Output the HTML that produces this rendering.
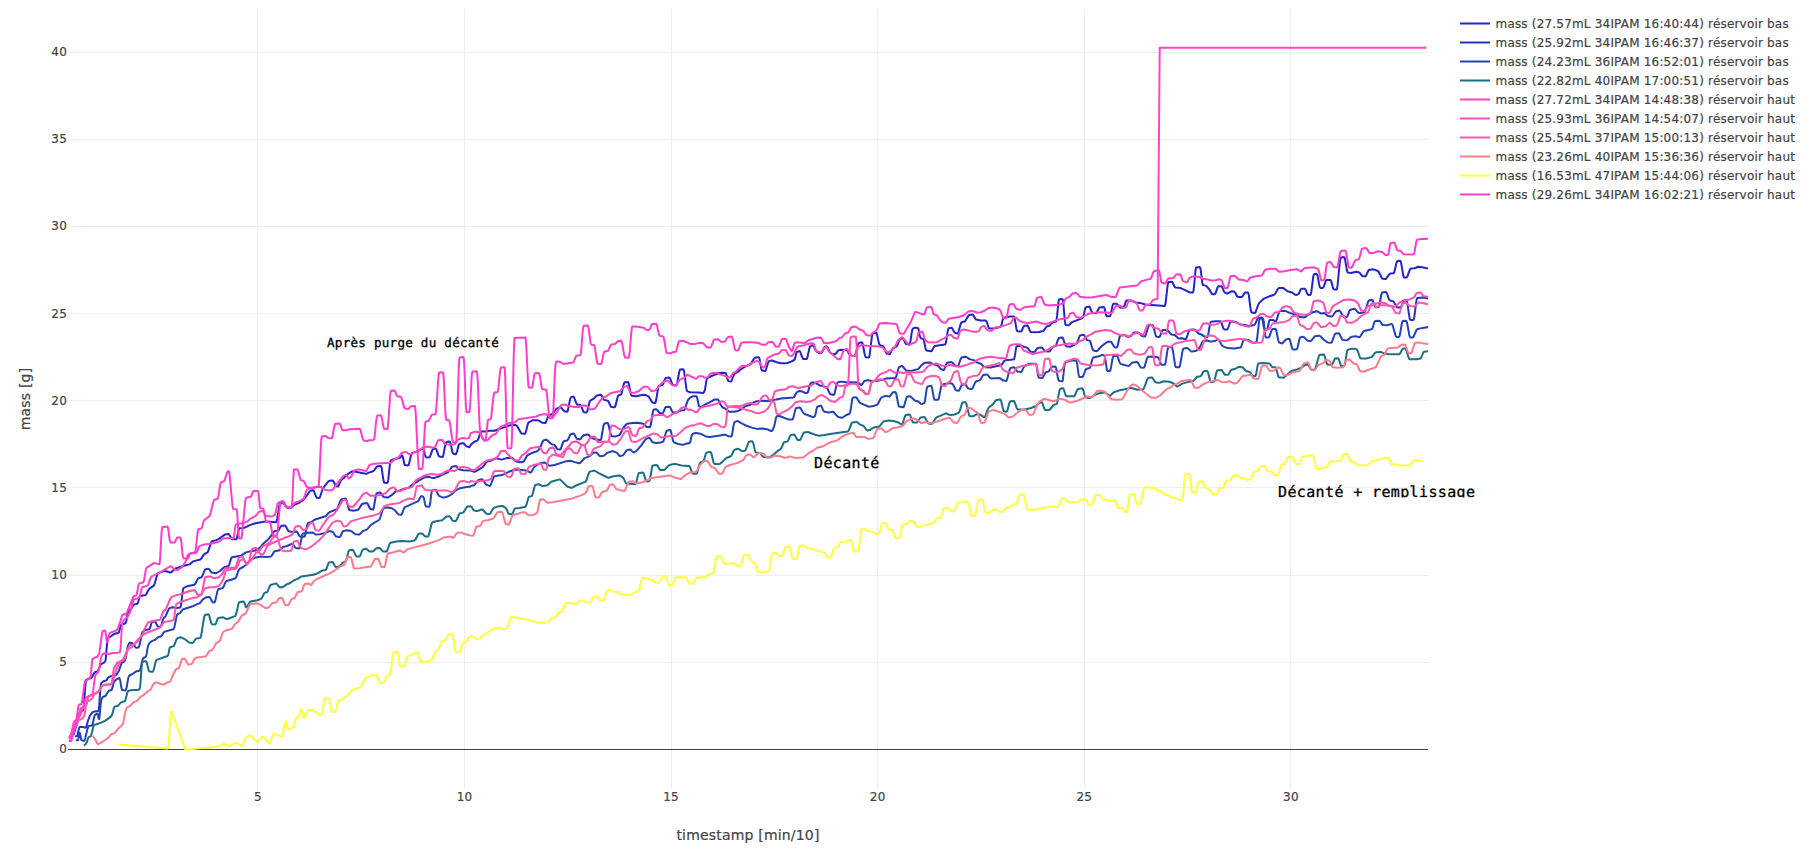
<!DOCTYPE html>
<html lang="fr"><head><meta charset="utf-8"><title>mass</title>
<style>
html,body{margin:0;padding:0;background:#fff;}
body{width:1802px;height:852px;overflow:hidden;}
svg{display:block;}
text{font-family:"DejaVu Sans","Liberation Sans",Verdana,sans-serif;fill:#444;letter-spacing:0.19px;stroke:#444;stroke-width:0.2px;}
.t12{font-size:12px;}
.t14{font-size:14px;}
.grid line{stroke:#eee;stroke-width:1;shape-rendering:crispEdges;}
.tr path{fill:none;stroke-width:2;stroke-linejoin:round;stroke-linecap:butt;}
.ann{font-family:"DejaVu Sans Mono","Liberation Mono",monospace;fill:#000;stroke:#000;stroke-width:0.3px;text-rendering:geometricPrecision;}
</style></head><body>
<svg width="1802" height="852" viewBox="0 0 1802 852">
<rect width="1802" height="852" fill="#fff"/>
<defs><clipPath id="pc"><rect x="68" y="9" width="1360" height="779"/></clipPath>
<clipPath id="ac"><rect x="1270" y="478" width="215" height="19.5"/></clipPath></defs>
<g class="grid">
<line x1="257.5" x2="257.5" y1="9" y2="788"/>
<line x1="464.5" x2="464.5" y1="9" y2="788"/>
<line x1="671.5" x2="671.5" y1="9" y2="788"/>
<line x1="877.5" x2="877.5" y1="9" y2="788"/>
<line x1="1084.5" x2="1084.5" y1="9" y2="788"/>
<line x1="1290.5" x2="1290.5" y1="9" y2="788"/>
<line x1="68" x2="1428" y1="662.5" y2="662.5"/>
<line x1="68" x2="1428" y1="575.5" y2="575.5"/>
<line x1="68" x2="1428" y1="487.5" y2="487.5"/>
<line x1="68" x2="1428" y1="400.5" y2="400.5"/>
<line x1="68" x2="1428" y1="313.5" y2="313.5"/>
<line x1="68" x2="1428" y1="226.5" y2="226.5"/>
<line x1="68" x2="1428" y1="139.5" y2="139.5"/>
<line x1="68" x2="1428" y1="52.5" y2="52.5"/>
<line x1="68" x2="1428" y1="749.5" y2="749.5" style="stroke:#444"/>
</g>
<g class="tr" clip-path="url(#pc)">
<path stroke="#2424c8" d="M73.2,735.2L73.7,734.1L75.8,727.3L77.3,723.0L79.4,712.9L79.9,711.8L83.0,710.6L83.5,708.8L84.0,704.2L85.1,688.3L85.6,682.8L86.1,680.0L88.7,678.8L91.3,677.8L92.3,676.5L94.4,672.7L94.9,672.3L97.5,671.5L98.0,670.9L100.6,664.8L101.1,664.2L103.7,662.9L105.2,661.2L105.7,659.7L107.3,640.8L107.8,637.8L110.9,636.4L114.5,633.8L118.1,633.0L118.7,632.6L119.2,631.5L120.7,625.7L121.2,624.7L125.4,623.3L125.9,622.4L126.4,620.4L127.4,614.3L128.0,612.2L128.5,611.2L130.5,609.6L133.6,604.9L134.1,604.6L137.2,603.8L137.8,603.0L138.3,601.5L139.3,597.7L139.8,596.5L140.3,595.9L145.5,595.1L146.5,593.8L148.1,590.6L149.1,588.9L153.8,585.7L154.8,583.3L156.9,575.7L157.9,573.3L163.6,571.1L164.6,570.8L170.3,572.5L170.8,572.5L171.9,571.8L174.4,569.2L175.5,568.5L185.8,565.3L189.4,564.4L190.4,563.8L193.0,561.4L200.3,559.5L201.3,558.6L203.9,554.5L204.4,554.1L207.5,552.4L208.0,551.6L211.1,542.6L211.6,541.7L212.1,541.2L216.3,540.1L219.4,538.6L225.1,534.4L228.2,534.0L228.7,534.2L229.2,534.7L231.8,538.9L232.3,539.3L235.9,539.3L236.4,539.2L236.9,538.0L238.5,530.6L239.0,529.0L239.5,528.3L243.1,528.0L244.2,527.8L250.4,524.9L255.5,523.2L265.3,521.5L266.9,521.5L276.2,522.2L276.7,521.0L277.2,518.7L279.3,505.9L279.8,504.4L282.4,502.4L282.9,502.4L283.4,502.9L285.5,506.0L286.5,507.2L287.0,507.4L290.1,508.1L290.6,508.0L291.2,507.7L294.3,504.8L298.9,502.8L303.0,500.2L306.1,496.5L309.8,491.2L310.8,490.5L312.9,490.3L313.4,490.5L313.9,491.1L316.0,496.5L316.5,497.3L317.0,497.7L319.1,497.9L319.6,497.6L320.1,496.8L322.7,488.8L323.2,487.9L328.4,481.4L329.4,480.8L332.5,480.4L333.0,480.8L333.5,481.5L335.6,485.7L336.1,486.2L337.7,486.6L338.2,486.3L338.7,485.6L340.2,481.8L341.3,479.9L344.4,477.4L348.0,473.9L352.1,471.4L353.1,471.3L365.5,473.7L366.6,473.7L370.2,472.1L373.3,471.2L374.3,470.1L376.4,467.2L377.4,466.3L380.5,466.0L381.0,466.2L381.6,467.7L383.1,478.1L383.6,480.9L384.1,482.4L384.7,482.8L387.2,483.1L387.8,482.1L388.3,479.4L389.8,465.1L390.3,462.0L390.9,460.4L394.5,459.0L399.6,458.0L400.7,457.0L401.7,455.7L402.2,455.4L402.7,456.3L404.3,463.8L404.8,465.0L407.9,465.5L408.4,465.2L408.9,464.2L411.0,455.5L411.5,454.1L412.0,453.3L415.6,451.9L420.8,449.3L422.9,448.6L423.4,448.8L423.9,449.9L424.9,454.5L425.5,456.3L426.0,457.2L429.1,457.4L429.6,457.2L430.1,456.4L432.2,450.4L432.7,449.5L433.2,449.0L435.3,448.5L435.8,448.7L436.3,449.4L438.4,455.2L438.9,456.0L439.4,456.4L442.5,457.0L443.0,456.2L443.5,454.4L445.6,443.5L446.1,442.3L446.6,442.0L449.2,441.5L449.7,441.6L450.2,442.6L450.8,444.4L452.3,451.5L452.8,453.0L453.3,453.8L455.4,454.3L455.9,454.2L456.4,453.3L457.0,451.7L458.5,445.7L459.0,444.4L459.5,443.8L462.6,443.2L463.2,443.2L463.7,443.5L466.8,446.4L469.4,447.3L470.9,444.8L473.0,442.7L474.0,442.0L477.1,440.7L477.6,440.3L478.7,438.0L480.2,433.0L480.7,432.0L481.2,431.6L484.9,431.6L489.5,430.8L494.7,430.7L499.3,428.9L509.1,425.6L514.3,424.7L515.3,424.9L517.4,426.4L521.0,433.0L521.5,433.4L524.6,433.8L525.1,433.6L525.7,432.6L527.7,424.6L528.2,423.2L528.8,422.4L531.9,420.6L532.9,420.2L537.5,420.2L538.6,420.6L542.2,422.7L545.3,423.0L545.8,422.5L546.3,421.5L547.9,417.1L548.9,415.5L552.5,414.0L553.5,412.8L555.6,409.7L556.6,408.6L560.3,407.2L560.8,407.3L561.3,407.7L563.4,410.3L564.4,411.3L567.0,411.8L567.5,411.3L568.0,409.9L570.1,399.3L570.6,397.7L571.1,397.1L573.2,396.6L573.7,396.8L574.2,397.6L575.8,402.0L576.8,404.1L577.3,404.5L580.4,405.1L580.9,405.6L581.4,406.6L583.0,410.7L583.5,411.7L584.0,412.2L586.6,412.5L587.1,411.7L587.6,410.1L589.2,403.2L589.7,401.6L590.2,400.6L593.3,398.9L596.9,395.6L600.5,394.8L601.1,395.0L601.6,395.5L603.1,398.6L604.2,399.9L607.8,400.8L608.3,401.3L610.9,406.6L611.4,407.0L614.5,407.3L615.0,406.9L615.5,405.7L617.6,397.2L618.1,395.9L618.6,395.3L620.7,394.8L621.2,394.2L621.7,392.9L623.8,383.9L624.3,382.7L624.8,382.3L627.9,382.0L628.4,382.8L629.0,384.6L630.5,392.5L631.0,394.4L631.5,395.5L632.1,395.7L635.7,396.3L643.4,394.8L645.0,394.9L648.1,396.1L648.6,396.5L652.2,402.3L652.7,402.6L654.8,402.9L655.3,402.9L655.8,401.6L656.3,399.3L657.9,389.2L658.4,386.9L658.9,385.7L662.0,385.1L662.5,384.8L663.0,384.1L665.1,378.9L665.6,378.2L666.1,377.9L669.2,377.6L669.8,378.0L670.3,378.9L671.8,383.2L672.9,384.9L676.0,385.4L676.5,385.2L677.0,384.0L677.5,381.7L679.1,372.5L679.6,370.5L680.1,369.6L683.2,369.2L683.7,370.0L684.2,372.3L686.3,388.2L686.8,390.5L687.3,391.4L690.4,392.3L698.7,392.4L702.8,393.1L703.3,392.8L704.4,391.5L704.9,389.9L706.4,380.8L706.9,378.8L707.5,378.0L714.7,374.7L719.3,373.0L723.0,372.7L725.5,372.9L726.1,373.7L726.6,375.2L727.6,379.4L728.1,380.6L728.6,381.1L730.7,381.6L731.2,381.3L731.7,380.5L733.3,376.0L734.3,373.9L737.4,372.1L742.1,368.5L745.7,366.3L750.3,364.3L751.4,363.1L753.4,359.5L754.5,358.1L757.0,357.3L758.6,357.3L759.1,357.6L759.6,359.2L761.2,368.5L761.7,370.1L762.2,370.5L764.8,371.0L765.3,371.0L765.8,370.3L767.9,363.3L768.4,362.0L768.9,361.3L771.0,360.6L772.0,360.5L776.7,362.2L781.3,363.2L786.0,363.3L787.5,363.0L791.1,361.6L794.2,360.0L794.8,359.1L795.3,357.4L796.3,353.2L796.8,352.1L797.3,351.7L799.4,351.1L799.9,351.4L800.4,352.3L802.0,356.8L803.0,358.8L803.5,359.0L806.6,359.1L807.1,358.2L807.7,356.4L809.2,349.0L809.7,347.3L810.2,346.3L812.8,345.1L813.3,345.5L813.9,346.3L815.9,350.8L816.4,351.4L818.5,352.7L819.5,353.1L821.6,352.8L822.6,351.3L824.2,347.7L824.7,347.0L825.2,346.6L826.8,346.6L827.3,347.0L827.8,347.7L829.9,352.3L830.4,352.9L833.0,354.2L834.0,354.3L835.6,353.8L836.6,352.8L837.6,351.1L838.7,350.3L841.2,349.8L843.8,350.0L846.4,349.5L846.9,349.9L847.4,350.7L849.5,354.4L852.1,355.9L853.1,356.1L854.7,355.7L855.2,355.2L855.7,354.0L857.8,345.0L858.3,343.6L858.8,342.9L861.9,342.3L862.4,343.0L862.9,344.7L864.5,353.2L865.0,355.5L865.5,356.8L866.0,357.2L868.6,357.4L869.1,357.2L869.6,355.5L871.7,338.0L872.2,334.9L872.7,333.3L875.8,332.7L876.4,333.0L876.9,334.1L878.9,343.1L879.5,344.5L880.0,345.1L883.1,346.3L883.6,346.9L884.1,347.8L885.7,351.9L886.7,353.6L889.3,354.4L889.8,354.1L890.3,353.3L892.4,348.8L892.9,348.2L896.5,346.6L897.5,344.8L899.1,340.7L899.6,339.8L900.1,339.2L902.2,338.2L902.7,338.1L903.2,338.5L905.3,343.0L905.8,343.7L906.3,344.1L909.4,344.7L909.9,343.8L910.4,341.6L911.5,334.2L912.0,331.1L912.5,329.2L913.0,328.5L914.6,327.8L915.6,327.7L917.7,328.0L918.2,328.4L918.7,329.9L919.7,335.2L920.3,337.2L920.8,338.3L923.4,339.1L923.9,340.2L925.4,347.8L925.9,349.6L926.5,350.5L931.1,351.2L931.6,351.0L932.1,350.4L933.7,347.4L934.7,346.1L945.1,344.4L945.6,343.7L946.1,341.8L947.6,331.7L948.2,329.4L948.7,328.3L951.3,327.7L951.8,327.9L952.3,328.4L953.8,331.3L954.9,332.8L957.5,333.6L958.0,333.2L958.5,332.1L960.5,324.4L961.1,323.0L961.6,322.2L964.7,321.5L965.2,321.1L968.3,316.0L968.8,315.4L969.3,315.1L972.4,314.5L972.9,314.7L973.5,315.2L975.0,318.2L976.0,319.6L980.7,320.5L985.9,320.6L986.4,321.2L986.9,322.3L988.4,327.0L989.0,328.0L989.5,328.4L993.6,328.4L1000.3,326.9L1000.8,326.6L1001.4,325.5L1002.9,319.1L1003.4,318.0L1003.9,317.7L1010.1,316.6L1013.7,316.5L1014.3,317.2L1014.8,319.0L1016.3,328.2L1016.8,330.2L1017.4,331.2L1021.0,331.6L1021.5,331.2L1022.0,330.3L1023.0,327.7L1024.1,325.9L1024.6,325.7L1027.2,325.4L1027.7,325.8L1028.2,326.7L1029.8,330.6L1030.3,331.5L1030.8,332.0L1034.9,332.3L1039.1,332.0L1043.2,331.1L1043.7,330.6L1046.3,326.8L1046.8,326.5L1049.4,325.8L1052.5,322.4L1056.1,321.5L1056.6,319.7L1057.1,315.7L1058.2,304.1L1058.7,300.6L1059.2,299.3L1062.3,299.1L1062.8,299.6L1063.3,302.7L1064.9,321.4L1065.4,324.5L1065.9,325.0L1068.5,325.2L1069.5,324.7L1071.1,323.0L1072.1,322.1L1082.4,318.1L1083.0,317.4L1083.5,316.0L1085.0,309.3L1085.5,307.9L1086.1,307.2L1088.6,306.7L1089.2,306.6L1089.7,307.0L1091.7,311.8L1092.3,312.5L1092.8,312.8L1095.9,313.3L1096.4,313.0L1096.9,312.2L1099.0,308.0L1099.5,307.6L1103.6,307.0L1104.1,307.4L1104.7,308.8L1105.7,313.7L1106.2,315.4L1106.7,316.2L1109.8,316.2L1110.3,315.4L1110.9,313.7L1112.4,306.1L1112.9,304.5L1113.4,303.7L1116.5,303.7L1117.6,304.5L1119.1,306.5L1120.1,307.4L1122.7,307.8L1123.2,307.7L1123.8,307.1L1124.3,305.9L1125.8,301.5L1126.3,300.7L1126.9,300.4L1131.0,300.5L1135.1,302.4L1139.8,302.9L1145.5,304.5L1164.6,306.1L1165.1,305.3L1165.6,302.8L1167.7,284.7L1168.2,282.5L1168.7,281.9L1171.8,281.7L1172.3,282.1L1172.8,282.9L1174.4,286.4L1174.9,287.1L1175.4,287.5L1180.6,288.1L1184.7,289.9L1189.4,292.4L1193.0,292.4L1193.5,290.6L1194.0,286.6L1195.6,269.7L1196.1,267.5L1196.6,267.4L1199.7,267.1L1200.2,267.6L1200.7,269.8L1202.3,282.9L1202.8,284.9L1205.4,285.6L1206.4,286.1L1209.5,289.7L1211.6,293.5L1212.1,294.0L1212.6,294.2L1214.7,294.2L1215.2,293.8L1215.7,292.8L1217.8,286.8L1218.3,286.2L1218.8,286.2L1221.4,286.3L1221.9,286.8L1222.4,287.7L1224.0,291.5L1224.5,292.3L1225.0,292.7L1226.5,293.4L1227.6,293.4L1231.2,291.3L1234.3,291.6L1235.3,292.8L1236.9,296.0L1237.4,296.6L1237.9,296.9L1241.5,296.9L1242.0,296.8L1242.6,296.3L1244.6,292.9L1245.1,292.5L1247.7,292.4L1248.2,293.0L1248.8,295.0L1250.3,306.6L1250.8,310.0L1251.3,311.9L1251.9,312.6L1254.4,313.0L1255.0,312.9L1255.5,312.3L1258.1,305.1L1259.1,303.1L1263.7,298.7L1269.4,296.3L1274.1,294.7L1274.6,294.3L1275.6,293.0L1278.2,288.6L1278.7,288.1L1279.2,287.9L1283.4,288.1L1287.5,291.2L1292.1,292.5L1294.7,294.5L1295.8,294.9L1297.8,294.5L1298.3,294.2L1298.9,293.5L1300.4,290.0L1300.9,289.2L1301.4,288.7L1304.5,288.7L1305.1,289.0L1305.6,289.7L1307.6,294.3L1308.2,294.9L1310.2,294.9L1310.7,294.2L1311.3,292.0L1313.3,276.5L1313.8,274.6L1314.4,274.1L1316.4,273.8L1316.9,274.2L1317.5,275.5L1318.0,277.9L1319.5,286.2L1320.0,287.5L1320.6,287.9L1322.6,287.9L1323.1,287.8L1323.6,287.0L1325.7,281.1L1326.2,280.2L1326.7,280.0L1330.4,280.0L1330.9,280.5L1331.4,281.7L1332.9,287.5L1333.5,288.8L1334.0,289.4L1336.6,289.4L1337.1,288.1L1337.6,284.9L1339.7,263.4L1340.2,259.6L1340.7,257.6L1341.2,257.4L1343.8,257.1L1344.3,257.3L1344.8,258.5L1345.3,260.9L1346.9,270.1L1347.4,271.9L1347.9,272.6L1351.0,272.9L1356.2,271.8L1358.8,272.3L1359.8,272.8L1361.9,275.6L1362.4,276.0L1362.9,276.2L1365.5,276.2L1366.0,275.7L1366.5,274.8L1368.1,271.0L1368.6,270.2L1369.1,269.9L1372.7,269.3L1373.7,269.4L1377.9,271.0L1378.9,272.2L1382.0,278.2L1382.5,278.6L1383.0,278.8L1385.1,279.1L1385.6,279.1L1386.1,278.7L1389.2,274.4L1389.8,273.9L1390.3,273.6L1393.4,273.3L1393.9,272.9L1394.4,271.6L1394.9,269.6L1396.5,262.7L1397.0,261.5L1397.5,261.1L1400.1,260.8L1400.6,261.2L1401.1,262.8L1401.6,265.6L1403.2,275.3L1403.7,277.0L1404.2,277.5L1406.3,277.5L1406.8,277.3L1407.3,276.7L1409.9,269.7L1410.4,268.9L1410.9,268.6L1414.6,268.2L1417.7,267.0L1418.7,266.8L1423.3,267.5L1429.5,268.7"/>
<path stroke="#2436bc" d="M75.0,736.6L77.0,736.0L77.5,734.9L79.1,727.9L79.6,727.0L82.7,727.0L85.8,727.7L86.3,726.9L87.9,721.0L89.4,716.9L90.5,714.8L92.0,712.8L93.0,711.9L93.6,711.8L96.1,711.2L98.2,711.2L98.7,710.1L99.2,705.8L100.3,689.9L100.8,684.9L101.3,683.1L103.4,681.2L106.0,680.5L106.5,680.2L108.0,677.7L109.1,676.7L115.8,675.2L116.8,674.3L118.9,670.7L121.4,663.5L122.0,662.7L122.5,662.3L124.5,661.3L125.1,660.3L125.6,658.3L127.6,647.2L128.2,645.4L129.2,643.3L129.7,642.8L130.2,642.7L132.3,643.2L133.3,643.9L135.4,647.1L135.9,647.6L136.4,647.7L138.5,647.4L139.0,646.7L139.5,645.2L141.6,634.7L142.1,633.0L142.6,632.1L144.7,630.2L149.3,629.3L149.9,628.4L151.4,623.3L151.9,622.3L152.4,622.0L154.5,621.5L155.0,621.7L155.5,622.3L157.6,626.2L158.1,626.6L160.7,626.7L161.2,625.9L161.7,624.4L162.8,620.1L163.3,618.7L165.4,616.3L165.9,615.4L169.0,608.6L169.5,608.1L172.6,607.3L173.6,607.4L176.7,608.1L180.3,607.4L180.8,606.0L181.4,602.9L182.4,593.4L182.9,590.0L183.4,588.1L187.0,586.3L194.3,584.8L194.8,584.4L195.3,583.7L197.9,578.6L198.4,578.2L201.5,577.3L202.0,576.6L204.6,570.3L205.1,569.5L205.6,569.2L208.2,568.8L208.7,568.9L209.3,569.3L211.3,572.3L211.8,572.6L215.5,573.2L216.5,573.0L220.1,571.0L223.2,568.0L224.2,567.2L228.4,566.0L228.9,565.3L229.4,564.1L230.9,559.0L231.5,557.8L232.0,557.2L240.8,555.8L245.9,552.4L250.1,551.4L255.2,550.5L259.4,548.2L260.4,547.2L263.5,543.5L268.1,539.5L271.2,535.6L273.8,531.6L274.8,531.0L277.9,530.7L278.5,530.4L280.5,526.8L281.6,525.8L284.7,525.5L285.2,525.6L286.2,527.0L287.8,530.2L288.8,531.2L292.4,531.9L296.5,531.5L297.6,532.6L299.1,535.5L299.6,536.1L300.2,536.4L304.3,536.7L304.8,535.9L305.3,534.2L306.9,526.4L307.4,524.4L307.9,523.2L308.4,522.9L311.5,522.0L314.1,520.0L315.1,519.5L325.5,516.3L326.5,515.4L328.0,513.4L329.1,512.4L336.8,509.3L337.9,507.8L340.4,500.8L341.0,499.8L341.5,499.3L345.6,498.6L346.1,499.1L346.6,500.4L348.7,508.7L349.2,509.8L349.7,510.1L353.4,510.7L358.0,509.7L359.0,508.8L361.6,504.6L362.1,504.0L362.7,503.7L366.8,503.0L367.3,503.3L367.8,504.0L369.9,508.5L370.4,509.0L373.0,509.5L373.5,508.5L374.0,506.5L375.6,496.9L376.1,494.6L376.6,493.3L377.1,493.0L380.2,492.5L381.2,493.5L382.8,496.0L383.3,496.6L383.8,496.9L386.9,497.5L388.0,497.4L391.6,495.2L395.7,491.5L399.8,490.6L403.5,488.9L408.6,487.8L412.8,484.2L415.9,482.6L419.5,480.0L424.1,477.6L425.2,477.3L428.8,476.9L432.9,478.1L433.9,478.1L438.6,476.5L443.7,474.0L447.9,472.3L448.9,471.2L451.5,467.4L452.5,466.7L455.6,466.1L456.1,466.2L456.7,466.5L458.7,469.1L459.8,469.6L463.4,470.3L470.1,470.4L474.2,471.9L475.3,471.6L483.0,466.9L486.1,462.5L487.1,461.5L491.3,460.5L496.4,458.2L501.6,459.6L507.3,458.0L511.9,457.8L513.0,458.4L515.0,460.7L516.1,461.5L520.2,462.3L522.8,461.8L523.8,461.2L526.9,456.0L527.9,455.0L532.6,452.7L537.2,451.2L538.3,450.3L540.3,447.4L542.4,442.2L543.4,440.4L546.0,439.7L547.0,440.0L550.7,443.5L551.7,444.1L554.3,444.9L554.8,445.4L556.9,448.6L557.4,449.1L557.9,449.3L560.0,449.5L560.5,449.2L561.0,448.4L562.5,443.7L563.6,441.5L564.1,441.1L567.2,440.5L568.2,439.2L570.3,434.7L570.8,434.2L573.4,433.5L573.9,433.8L574.4,434.4L576.5,438.3L577.0,438.7L579.1,439.3L579.6,439.4L580.6,438.8L582.7,436.2L583.7,435.2L587.3,434.4L588.4,434.7L590.9,437.2L592.0,438.0L596.1,439.5L600.2,440.0L600.8,439.8L601.3,438.5L603.3,426.7L603.9,424.6L604.4,423.6L607.5,423.0L608.0,423.4L608.5,424.7L610.6,434.2L611.1,435.6L611.6,436.1L614.7,436.5L615.7,436.4L619.4,435.1L620.4,433.7L623.5,427.7L626.1,424.5L627.1,423.7L632.8,423.1L637.4,422.8L639.0,422.9L643.1,423.7L644.1,424.4L646.2,426.5L647.2,427.1L649.8,427.2L650.3,426.3L650.9,424.3L652.9,411.5L653.4,410.0L654.0,409.5L656.0,409.3L656.5,409.5L657.1,409.9L659.1,412.7L660.2,413.3L662.2,413.6L662.7,413.2L663.3,412.4L665.3,407.6L665.8,407.0L666.4,406.9L669.5,406.7L670.0,407.2L670.5,408.0L672.0,411.3L672.6,412.0L673.1,412.3L676.7,412.5L680.3,410.6L683.9,410.2L684.4,410.0L684.9,409.2L687.0,402.4L688.0,400.0L690.1,397.7L692.7,396.3L696.3,396.2L696.8,396.8L697.3,398.4L698.4,403.8L698.9,405.7L699.4,406.5L701.0,406.7L702.0,406.5L705.1,404.6L711.8,401.2L714.4,399.6L715.4,399.4L717.5,399.4L718.0,399.7L718.5,400.4L720.6,404.9L722.7,407.3L725.8,408.9L728.9,411.6L729.4,411.7L734.0,411.7L737.6,411.0L739.2,410.4L741.8,409.1L744.9,406.4L750.5,404.7L753.6,402.5L755.2,401.8L758.3,401.1L763.5,400.8L769.1,401.1L776.4,399.4L781.0,398.6L793.4,397.6L794.4,396.5L796.5,392.6L797.0,392.1L799.1,391.1L802.2,391.4L805.3,393.1L807.4,392.8L807.9,392.1L808.4,390.7L809.4,386.3L810.5,383.5L811.0,383.1L813.0,382.3L814.1,382.5L816.1,383.3L819.8,385.4L823.9,386.3L826.5,387.5L827.5,388.6L829.6,393.1L830.1,393.9L830.6,394.2L833.7,394.9L834.2,394.4L834.7,393.0L836.8,384.1L837.3,382.9L837.8,382.4L839.9,381.8L842.5,381.8L847.6,382.6L852.8,382.2L857.5,382.6L858.5,383.0L861.1,384.9L861.6,384.9L862.1,384.5L864.2,381.3L864.7,380.9L867.3,380.2L868.3,380.2L871.4,380.9L876.6,380.9L880.7,380.1L885.9,378.6L895.2,378.0L895.7,377.6L896.2,376.7L898.3,369.0L898.8,367.7L899.3,367.0L901.9,365.9L902.4,366.1L902.9,366.6L905.0,369.4L906.0,370.4L910.1,371.1L917.9,369.1L918.4,368.8L921.5,365.2L924.6,362.9L925.6,362.7L929.8,362.4L933.4,364.4L937.5,365.4L938.6,366.3L940.6,368.9L943.2,370.0L943.7,370.0L944.2,369.4L944.7,368.3L946.3,364.0L946.8,363.1L947.3,362.7L951.5,362.0L952.5,362.6L954.6,365.2L955.1,365.5L957.7,366.1L958.2,365.6L958.7,364.6L960.8,358.7L961.3,357.8L961.8,357.4L965.4,356.7L966.4,357.0L969.5,359.1L973.7,360.1L977.3,362.6L980.9,363.7L984.0,366.7L985.0,367.2L990.7,367.5L995.9,366.3L1000.5,365.5L1001.6,364.9L1004.1,361.1L1005.2,360.2L1010.9,359.8L1014.0,359.3L1014.5,357.9L1015.0,355.2L1016.0,348.3L1016.5,346.5L1017.1,346.0L1020.7,345.8L1026.9,347.6L1027.9,348.3L1030.0,351.1L1031.0,351.8L1034.1,352.1L1034.6,351.9L1035.1,351.4L1036.7,348.9L1037.7,347.9L1040.8,347.5L1041.9,347.7L1042.4,348.1L1044.4,350.4L1045.5,351.2L1049.1,351.6L1049.6,351.4L1050.1,350.8L1052.2,347.4L1052.7,346.9L1055.3,346.2L1055.8,345.6L1056.3,344.6L1057.9,339.9L1058.9,338.1L1062.0,337.4L1062.5,337.5L1063.0,338.2L1065.1,344.6L1065.6,345.6L1066.1,346.2L1069.7,346.8L1070.8,346.5L1076.5,343.6L1077.5,341.8L1079.6,336.1L1080.1,335.4L1083.2,334.8L1083.7,334.8L1084.2,335.3L1084.7,336.1L1086.3,339.1L1086.8,339.7L1087.3,340.1L1089.4,340.6L1089.9,341.0L1090.4,342.0L1092.5,349.0L1093.0,350.1L1093.5,350.6L1096.6,351.2L1097.6,350.7L1100.2,347.5L1104.3,344.1L1106.9,342.2L1108.0,341.8L1110.5,341.7L1111.1,341.9L1111.6,342.5L1114.2,346.8L1114.7,347.2L1115.2,347.4L1116.7,347.4L1117.3,346.7L1117.8,345.3L1119.3,338.0L1119.8,336.3L1120.4,335.4L1124.5,335.0L1125.5,335.4L1127.1,336.6L1128.1,336.7L1130.7,336.2L1131.2,335.8L1133.3,333.0L1133.8,332.6L1134.3,332.4L1137.9,332.4L1139.0,332.9L1141.0,335.2L1142.1,336.1L1144.6,336.5L1145.2,336.2L1145.7,335.3L1148.3,326.8L1148.8,325.8L1149.3,325.3L1152.4,325.0L1152.9,325.7L1153.4,327.0L1155.5,334.6L1156.0,336.0L1156.5,336.8L1159.1,336.9L1159.6,336.6L1160.1,335.9L1162.2,330.6L1162.7,330.0L1163.2,329.9L1166.8,329.9L1167.9,330.5L1171.0,334.1L1171.5,334.4L1174.6,334.9L1175.6,335.7L1178.2,338.2L1178.7,338.5L1182.3,338.2L1185.4,339.2L1186.0,338.9L1186.5,338.1L1188.5,332.2L1189.6,330.1L1190.1,329.8L1193.7,329.5L1194.7,329.8L1197.8,332.9L1198.9,333.7L1202.0,334.8L1205.1,336.9L1207.1,337.3L1207.6,336.6L1208.2,334.8L1209.7,325.6L1210.2,323.3L1210.7,322.0L1211.3,321.8L1215.4,321.2L1220.6,321.2L1221.1,321.8L1221.6,322.9L1223.1,327.9L1223.7,328.9L1224.2,329.4L1227.3,329.4L1227.8,328.8L1228.3,327.7L1229.9,322.7L1230.4,321.7L1230.9,321.2L1236.1,322.0L1239.2,324.0L1240.2,324.4L1244.8,324.9L1249.0,325.9L1250.0,326.0L1254.1,325.1L1255.2,323.9L1257.7,318.3L1258.3,317.9L1261.4,317.5L1261.9,317.7L1262.4,319.0L1263.9,327.5L1264.5,329.2L1265.0,329.9L1266.5,329.9L1267.0,329.4L1267.6,328.0L1269.1,321.3L1269.6,320.2L1270.1,319.9L1273.2,320.0L1275.3,321.3L1275.8,321.3L1276.3,320.6L1276.9,319.1L1278.9,312.5L1279.4,311.5L1280.0,311.1L1284.1,310.7L1285.1,310.9L1289.8,312.9L1294.9,314.5L1299.6,316.8L1304.2,317.4L1305.3,317.0L1308.4,314.5L1311.5,312.8L1313.0,312.2L1316.6,311.3L1317.7,311.5L1320.8,313.4L1321.8,313.5L1324.4,313.1L1325.4,313.7L1327.0,315.3L1328.0,316.1L1331.6,316.6L1332.6,316.0L1335.2,312.3L1336.3,311.2L1339.4,310.6L1340.4,311.6L1343.0,316.0L1343.5,316.6L1344.0,316.9L1346.6,316.9L1347.1,316.5L1347.6,315.7L1349.7,310.4L1350.2,309.8L1350.7,309.7L1354.3,308.8L1355.4,309.4L1357.9,312.3L1358.5,312.7L1359.0,312.9L1364.1,312.5L1364.7,311.9L1365.2,310.8L1368.3,301.3L1368.8,300.6L1369.3,300.3L1371.9,300.0L1372.4,300.2L1372.9,300.9L1375.0,306.5L1375.5,307.2L1376.0,307.3L1378.6,307.0L1379.1,306.1L1379.6,304.2L1381.2,295.3L1381.7,293.4L1382.2,292.4L1385.8,292.0L1386.4,292.2L1386.9,293.0L1388.9,299.3L1389.5,300.2L1390.0,300.6L1393.1,301.2L1394.1,302.5L1396.2,306.4L1396.7,307.1L1397.2,307.4L1400.3,307.4L1400.8,307.1L1401.3,306.4L1403.9,300.7L1404.4,300.3L1405.0,300.3L1406.5,300.9L1407.0,302.0L1407.5,304.3L1409.6,318.3L1410.1,319.7L1410.6,319.9L1413.2,319.9L1413.7,319.6L1414.2,317.9L1416.3,301.5L1416.8,298.9L1417.3,297.9L1422.5,297.5L1429.2,298.6"/>
<path stroke="#2444b4" d="M75.8,740.2L77.9,740.2L78.4,738.4L79.5,732.7L80.0,733.3L81.0,738.7L81.5,740.1L82.0,740.4L84.1,740.9L84.6,740.3L85.1,738.8L87.2,730.0L88.2,726.7L88.8,726.0L91.9,725.4L92.4,724.7L92.9,723.1L93.9,718.0L94.4,716.1L95.0,715.1L97.0,713.5L97.5,713.7L98.1,715.4L98.6,718.5L99.1,719.2L99.6,716.4L100.6,704.9L101.2,701.1L101.7,698.9L102.7,697.0L105.3,696.0L105.8,695.5L108.4,691.2L108.9,690.8L111.5,690.0L112.0,689.1L112.5,687.4L113.5,683.2L114.1,681.9L114.6,681.2L116.6,679.3L119.2,678.0L119.7,678.8L120.3,680.8L121.3,687.3L121.8,689.3L122.3,690.1L125.4,690.5L125.9,689.7L126.5,688.0L128.0,679.5L128.5,677.3L129.0,676.0L129.6,675.5L132.1,674.2L135.8,671.6L139.4,670.8L139.9,670.3L140.4,668.9L142.5,659.9L143.0,658.6L143.5,658.0L145.6,656.9L146.1,656.0L146.6,654.0L147.6,647.9L148.2,645.6L148.7,644.3L150.2,642.2L151.3,641.4L154.9,639.9L158.0,637.2L160.5,636.5L161.1,636.2L161.6,635.7L163.6,632.4L164.2,631.9L170.4,630.0L173.5,629.2L174.0,628.3L174.5,626.5L176.6,616.4L177.1,614.8L177.6,614.0L179.1,613.5L180.2,612.8L182.2,610.1L183.3,609.2L192.6,606.3L196.7,604.3L199.3,603.4L200.3,602.6L202.9,599.3L206.0,597.3L209.1,596.9L209.6,597.1L210.1,597.6L212.2,601.7L212.7,602.2L214.3,602.5L214.8,602.0L215.3,600.6L217.4,591.5L217.9,590.0L218.4,589.1L222.5,588.2L223.6,586.6L225.1,583.0L226.1,581.3L226.7,581.0L231.3,579.7L235.4,578.3L236.5,576.4L238.0,571.7L239.1,569.4L239.6,568.9L243.2,567.0L247.3,563.7L250.4,560.1L255.1,557.7L256.1,557.4L260.8,556.6L266.4,557.1L271.1,556.5L272.1,555.2L273.7,552.2L274.7,551.2L278.8,550.5L279.9,549.9L283.0,547.0L287.1,546.0L291.7,543.8L292.3,543.7L292.8,544.0L294.8,547.1L295.4,547.7L295.9,547.9L299.0,548.5L299.5,547.8L300.0,546.1L302.1,535.2L302.6,533.9L303.1,533.6L307.8,532.8L312.4,532.5L313.4,533.0L315.5,534.5L320.1,534.3L324.8,532.9L328.9,531.3L330.0,531.2L332.5,531.8L333.1,532.2L335.1,535.4L336.2,536.4L339.3,537.1L339.8,537.0L340.3,536.5L342.4,532.0L342.9,531.3L343.4,530.9L347.0,530.3L351.1,531.0L352.2,531.7L354.2,533.5L355.3,534.2L358.9,534.5L359.4,534.4L363.0,531.1L367.1,529.3L371.3,524.7L379.0,520.0L380.1,518.3L382.6,510.0L383.2,508.8L383.7,508.1L387.8,507.4L391.9,508.3L395.0,510.5L398.1,514.1L398.7,514.4L401.2,514.7L401.8,514.2L402.3,513.2L403.8,508.8L404.9,507.1L408.5,505.6L414.2,502.9L417.8,501.4L418.8,500.3L420.3,497.3L420.9,496.5L421.4,496.1L422.9,496.5L423.4,497.1L424.0,498.6L425.0,503.8L425.5,505.6L426.0,506.5L429.1,506.7L429.6,505.8L430.2,503.3L431.2,494.7L431.7,491.8L432.2,490.5L435.3,489.8L435.8,490.0L436.4,490.6L437.9,494.1L438.9,495.8L442.6,497.4L443.6,497.5L446.7,496.9L448.2,496.3L451.9,494.0L455.5,490.6L460.1,488.2L461.2,487.9L465.3,487.2L469.4,486.8L471.0,486.0L474.1,485.3L475.1,484.3L477.7,480.5L478.7,479.9L481.8,479.2L482.3,479.4L482.8,479.9L485.9,484.3L486.5,484.7L489.6,485.9L490.1,485.8L490.6,485.1L493.7,477.1L494.2,476.5L494.7,476.3L503.0,474.8L508.7,471.8L513.3,470.3L517.5,469.5L526.2,470.4L530.4,472.6L530.9,472.4L531.4,471.8L533.5,468.2L534.5,466.8L539.1,463.6L540.2,463.2L544.3,462.5L544.8,462.6L549.0,465.6L550.0,465.8L554.6,465.0L565.0,461.6L569.6,460.8L571.2,460.9L576.3,462.6L579.4,463.2L579.9,463.1L580.5,462.7L584.6,458.1L589.8,456.1L593.4,452.8L596.0,452.5L596.5,452.5L597.0,452.9L599.1,455.7L600.1,456.2L603.7,455.8L606.8,453.2L607.8,452.6L612.0,451.2L613.0,451.2L616.6,452.6L617.7,453.6L619.2,455.6L619.7,456.0L620.2,456.1L622.3,455.6L623.3,455.0L626.4,450.6L627.5,449.9L630.0,449.4L631.1,450.1L633.1,452.1L633.7,452.4L634.2,452.4L634.7,452.0L636.8,450.5L637.8,449.4L641.4,445.1L645.5,439.4L646.6,438.5L649.2,437.9L649.7,438.2L650.2,438.8L652.3,441.9L652.8,442.3L655.9,442.9L656.9,443.0L660.5,442.6L663.1,441.6L663.6,440.8L664.1,439.4L665.7,433.2L666.2,431.7L666.7,430.8L669.8,430.0L670.3,430.1L670.9,431.1L672.9,440.0L673.4,441.6L674.0,442.4L678.1,444.0L682.2,444.7L683.2,444.7L687.9,443.2L689.4,443.3L690.0,442.6L690.5,440.9L691.5,436.2L692.0,434.8L692.5,434.2L695.1,433.0L696.2,433.0L700.3,433.7L706.0,436.4L709.1,437.1L710.1,437.1L724.6,434.7L725.6,434.8L728.7,436.3L731.3,436.6L731.8,435.7L732.3,433.6L733.3,426.8L733.9,424.1L734.4,422.4L734.9,421.9L737.0,421.1L738.0,421.2L741.1,423.2L746.3,425.7L751.9,427.6L756.6,428.9L762.3,428.5L766.9,429.2L771.1,431.0L771.6,431.1L772.1,430.7L772.6,429.9L774.2,426.4L775.7,419.2L776.2,417.2L776.7,416.2L779.3,416.1L780.3,416.3L788.6,419.6L792.2,419.6L792.7,419.2L793.3,418.1L795.3,409.8L795.8,408.6L796.4,408.0L799.5,407.4L800.0,407.6L800.5,408.2L803.1,412.6L804.1,413.7L811.9,416.8L812.9,416.9L814.4,416.7L815.0,415.9L815.5,414.3L816.5,409.3L817.0,407.5L817.5,406.5L820.6,405.7L821.2,406.0L821.7,406.8L823.2,410.4L824.3,411.7L828.9,412.5L833.0,411.8L833.5,412.0L837.2,416.1L838.2,417.0L841.8,417.8L842.3,417.7L845.9,415.2L849.6,413.7L850.1,412.6L850.6,410.3L852.1,399.8L852.7,398.0L853.2,397.6L855.8,397.3L856.3,397.5L856.8,398.0L859.4,402.1L860.4,403.1L864.5,404.8L868.2,406.5L869.2,406.7L873.3,406.0L876.9,404.9L878.0,403.7L880.6,398.6L881.6,397.4L885.2,396.0L886.2,396.0L889.3,396.6L889.8,396.4L890.4,395.8L892.4,392.7L892.9,392.3L895.0,392.1L895.5,392.2L896.0,393.2L896.6,395.2L898.1,403.6L898.6,405.5L899.1,406.5L903.3,407.2L903.8,406.7L904.3,405.5L905.9,399.5L906.4,397.9L906.9,396.9L907.4,396.6L909.5,396.3L910.5,396.6L914.6,400.3L915.7,400.8L918.3,401.5L920.8,403.7L921.9,404.0L923.9,403.4L924.5,402.6L925.0,400.5L926.5,389.9L927.0,387.6L927.6,386.4L931.2,385.8L931.7,386.7L932.2,388.7L933.8,397.7L934.3,399.2L934.8,399.7L937.9,399.7L938.4,399.4L938.9,398.1L941.0,387.3L941.5,385.5L942.0,384.7L949.2,383.1L952.3,383.8L953.4,385.2L955.4,389.6L956.0,390.2L958.5,390.8L959.1,390.4L959.6,389.6L961.6,385.1L962.2,384.7L964.7,384.1L965.3,384.3L965.8,384.9L967.8,388.1L968.4,388.4L971.5,389.0L972.0,388.9L972.5,388.4L975.1,382.7L976.1,381.3L979.7,380.4L980.8,379.1L982.8,375.4L983.3,375.0L986.4,374.4L987.5,374.7L990.0,377.8L991.1,378.5L999.3,377.9L1003.0,380.3L1006.1,381.1L1006.6,380.5L1007.1,379.2L1009.7,369.6L1010.2,368.5L1010.7,367.9L1013.8,367.3L1014.3,367.4L1014.8,367.9L1016.9,371.1L1017.4,371.5L1021.0,372.0L1021.6,371.6L1022.1,370.8L1023.6,367.4L1024.7,366.0L1027.8,364.5L1030.9,363.8L1035.5,363.7L1036.0,363.8L1036.5,365.4L1038.1,375.6L1038.6,377.4L1039.1,377.8L1042.2,378.0L1042.7,377.6L1043.2,376.8L1045.3,372.7L1045.8,372.3L1048.4,371.6L1048.9,371.1L1051.5,367.1L1052.0,366.8L1055.1,366.4L1055.6,366.9L1056.2,368.5L1057.7,376.7L1058.2,379.1L1058.7,380.5L1059.3,381.0L1062.4,381.2L1062.9,379.4L1064.4,366.0L1064.9,363.3L1065.5,362.4L1069.1,361.0L1073.2,360.2L1076.3,360.9L1076.8,362.1L1077.3,364.9L1078.4,373.2L1078.9,375.8L1079.4,376.9L1082.5,376.9L1083.0,376.4L1083.5,375.5L1085.1,371.0L1086.1,369.0L1089.7,368.0L1090.2,367.2L1092.3,359.5L1092.8,358.1L1093.3,357.4L1098.0,356.6L1102.1,355.0L1103.2,355.1L1104.2,355.4L1104.7,356.4L1105.2,358.7L1106.8,369.2L1107.3,370.8L1107.8,371.1L1109.9,371.1L1110.4,370.0L1110.9,367.9L1112.5,358.8L1113.0,356.9L1113.5,356.0L1116.6,355.7L1117.1,355.9L1117.6,356.7L1119.7,362.7L1120.2,363.5L1120.7,363.9L1124.3,365.0L1128.0,365.9L1128.5,365.9L1129.0,365.7L1131.6,363.1L1132.6,362.4L1136.7,361.9L1137.3,362.1L1137.8,362.7L1140.4,367.0L1140.9,367.4L1143.4,367.7L1144.0,367.6L1144.5,366.9L1147.1,358.2L1147.6,357.2L1148.1,356.8L1152.2,356.6L1157.9,357.3L1158.4,357.7L1158.9,358.6L1160.5,363.0L1161.0,364.2L1161.5,364.8L1164.6,364.8L1165.1,364.1L1165.7,362.2L1167.2,351.8L1167.7,349.1L1168.2,347.6L1168.8,347.3L1171.3,347.0L1171.9,347.0L1172.4,348.2L1172.9,350.7L1175.0,364.4L1175.5,366.5L1176.0,367.3L1179.1,367.3L1179.6,366.7L1180.1,365.1L1182.2,352.6L1182.7,350.2L1183.2,348.8L1183.7,348.5L1186.8,348.0L1187.9,348.4L1191.0,351.4L1192.0,351.5L1195.6,351.1L1196.6,350.5L1199.2,348.0L1200.3,346.4L1202.3,342.2L1203.4,341.0L1207.0,340.5L1210.6,341.5L1211.6,341.6L1214.7,341.1L1217.8,339.7L1218.3,339.7L1218.9,340.1L1219.4,340.9L1222.0,345.4L1223.0,346.4L1227.6,348.1L1234.4,348.6L1240.6,347.4L1241.1,346.8L1241.6,345.6L1243.1,340.8L1243.7,339.8L1244.2,339.4L1248.3,339.9L1252.4,342.7L1256.0,342.5L1256.6,341.4L1257.1,338.8L1259.1,321.1L1259.7,319.0L1260.2,318.5L1262.8,318.2L1263.3,319.2L1263.8,322.1L1264.8,332.3L1265.3,335.8L1265.9,337.4L1268.4,337.4L1269.0,337.2L1269.5,336.4L1271.0,331.6L1272.1,329.3L1272.6,329.0L1275.2,328.7L1275.7,329.0L1276.2,330.3L1278.3,340.5L1278.8,342.0L1279.3,342.6L1281.4,343.3L1281.9,343.4L1282.4,343.3L1286.0,339.5L1286.5,339.3L1289.1,338.8L1289.6,339.2L1290.1,340.5L1292.2,348.5L1292.7,349.3L1293.2,349.4L1296.3,349.4L1296.8,349.2L1297.4,348.2L1297.9,346.3L1299.4,339.2L1299.9,337.8L1300.5,337.2L1302.5,336.8L1303.0,336.8L1304.1,337.3L1307.2,340.4L1307.7,340.7L1310.3,341.0L1311.3,340.6L1313.9,337.3L1314.9,336.2L1319.1,335.7L1319.6,335.8L1320.6,336.5L1323.7,339.5L1326.8,342.0L1327.8,342.4L1330.9,342.8L1331.5,342.6L1332.0,341.8L1334.6,334.5L1335.1,333.8L1335.6,333.5L1338.7,333.2L1339.2,333.5L1339.7,334.3L1341.8,338.9L1342.3,339.6L1342.8,339.9L1347.0,340.3L1348.0,339.7L1350.6,337.3L1351.6,336.8L1355.7,336.2L1359.3,337.2L1359.9,336.9L1360.4,336.3L1363.0,332.0L1364.0,331.0L1371.7,329.2L1372.3,328.5L1372.8,327.3L1374.3,322.5L1374.8,321.5L1375.4,321.1L1379.0,320.7L1379.5,320.9L1380.0,321.3L1382.1,324.5L1382.6,324.9L1383.1,325.0L1387.2,325.3L1391.4,323.9L1391.9,324.0L1392.4,324.8L1392.9,326.3L1395.5,335.3L1396.0,336.4L1396.5,336.9L1399.1,336.9L1399.6,335.9L1400.1,333.8L1401.7,324.2L1402.2,322.1L1402.7,321.1L1405.8,320.7L1406.3,321.1L1406.9,322.4L1407.4,324.6L1409.4,335.6L1410.0,337.0L1410.5,337.4L1412.5,337.4L1413.1,337.2L1413.6,336.7L1416.2,330.6L1417.2,329.2L1422.4,327.9L1429.6,326.9"/>
<path stroke="#1c6e86" d="M83.8,745.4L85.8,744.1L86.9,742.1L87.9,738.7L88.4,737.7L88.9,737.1L90.5,736.3L91.0,735.7L92.0,732.3L93.1,727.4L93.6,725.8L94.1,725.0L101.3,722.6L104.9,720.9L109.6,717.7L111.1,716.3L112.2,714.4L113.7,708.7L114.2,707.3L114.8,706.6L117.9,705.8L121.0,702.4L124.6,701.3L125.1,700.6L125.6,699.3L127.2,693.3L127.7,691.8L128.2,691.0L128.7,690.7L132.3,690.1L137.5,690.0L139.5,689.3L140.1,686.7L140.6,681.5L141.6,667.1L142.1,663.1L142.6,661.7L145.7,661.1L146.3,661.7L146.8,663.0L148.8,670.7L149.4,671.5L152.5,671.8L153.0,671.6L153.5,670.6L155.6,662.0L156.1,660.6L156.6,659.9L167.4,656.0L168.0,655.4L168.5,653.7L169.5,648.5L170.0,647.2L173.6,646.1L174.2,645.4L176.2,640.1L177.3,638.3L177.8,638.0L180.4,637.3L181.4,637.4L185.0,639.3L189.1,642.5L192.2,643.0L192.7,642.9L193.3,642.5L195.3,639.5L196.4,638.5L200.0,637.9L200.5,637.6L201.0,636.2L201.5,633.6L204.1,617.2L204.6,615.5L205.1,615.0L208.2,614.3L208.8,614.8L209.3,615.9L210.8,621.6L211.3,623.2L211.9,624.0L212.4,624.3L215.0,624.5L215.5,624.1L216.0,623.2L217.5,619.2L218.1,618.4L218.6,618.1L222.7,617.3L223.7,617.6L226.3,618.9L227.4,619.0L235.1,616.1L235.6,615.5L236.1,614.2L238.2,605.1L238.7,603.3L239.2,602.3L239.7,602.0L243.4,601.4L243.9,601.9L244.4,602.9L245.9,607.0L246.5,607.4L247.0,606.9L249.6,602.3L250.6,601.4L257.3,600.2L260.9,599.0L262.0,597.6L264.0,593.7L264.5,593.0L265.1,592.6L267.1,592.2L267.6,591.5L269.7,586.2L270.2,585.4L270.7,585.0L275.9,583.4L276.9,584.1L279.5,587.2L280.0,587.5L280.6,587.5L283.1,586.7L284.2,586.1L286.8,584.2L289.8,583.2L293.5,580.5L297.6,578.9L301.2,576.6L313.6,574.7L318.3,572.9L322.4,570.4L325.5,569.9L326.0,569.5L326.5,568.6L328.1,564.2L328.6,563.0L329.1,562.4L332.2,562.1L332.7,562.3L333.2,562.8L334.8,565.7L335.3,566.5L335.8,566.9L338.9,566.6L340.0,565.9L342.5,562.9L345.6,561.3L346.1,560.4L346.7,558.9L348.2,552.4L348.7,550.9L349.2,550.2L352.3,549.7L352.9,549.9L353.4,550.6L356.0,555.9L356.5,556.4L357.0,556.5L359.1,556.5L359.6,556.4L360.1,555.8L362.2,550.5L362.7,549.7L363.2,549.4L365.8,548.7L366.3,548.8L369.4,551.4L369.9,551.6L372.5,551.5L373.5,551.0L376.1,548.5L376.6,548.3L379.2,547.9L380.2,548.3L382.8,551.3L383.9,551.6L386.4,551.5L387.0,551.0L387.5,549.9L389.5,544.0L390.1,543.1L390.6,542.7L396.2,541.6L401.9,541.1L409.7,541.5L414.3,540.5L415.4,539.5L418.5,534.1L419.0,533.7L419.5,533.5L422.1,533.5L422.6,533.8L424.1,535.6L425.2,536.5L427.8,536.6L428.3,536.4L428.8,535.4L431.4,524.6L431.9,523.0L432.4,522.2L436.0,521.2L442.2,520.3L445.8,517.0L446.9,516.5L448.9,516.3L449.4,516.2L450.0,516.6L452.5,520.5L453.1,520.9L453.6,521.1L455.6,521.1L456.2,520.6L456.7,519.8L459.3,513.9L459.8,513.4L462.9,512.6L463.4,512.3L464.4,510.9L466.5,507.4L467.5,506.6L470.6,506.2L471.7,507.1L473.2,509.7L473.7,510.2L474.2,510.5L476.8,511.0L477.9,510.9L481.5,509.5L482.0,509.4L482.5,509.5L486.1,513.5L486.6,513.7L489.2,514.1L489.7,513.9L490.3,513.4L492.8,509.1L493.9,507.9L497.5,506.6L502.1,506.0L503.2,506.3L505.7,507.9L506.8,509.7L508.3,513.3L508.8,513.9L509.4,514.1L511.9,514.0L513.0,512.6L514.5,509.2L515.0,508.6L515.6,508.3L519.7,507.9L525.4,506.8L525.9,506.2L526.4,505.0L528.5,497.5L529.0,496.7L531.6,496.1L532.1,495.5L532.6,494.3L534.7,486.1L535.2,485.1L535.7,484.8L538.8,484.3L539.3,484.3L542.4,486.1L546.6,485.6L547.6,485.1L551.2,481.7L559.5,479.4L560.5,479.9L567.2,486.5L567.7,486.8L571.3,487.7L572.4,487.7L576.5,485.2L585.3,481.9L585.8,481.5L586.3,480.6L588.9,473.0L589.4,472.0L589.9,471.6L594.1,470.6L595.1,471.0L598.7,473.1L607.5,477.5L608.5,477.8L613.7,476.2L618.9,475.6L619.9,475.7L623.0,477.6L624.0,479.1L625.6,482.5L626.1,483.2L626.6,483.5L635.4,484.2L635.9,483.5L636.4,482.1L638.0,475.2L638.5,473.7L639.0,472.9L642.6,472.6L643.1,472.7L643.7,473.6L645.7,480.4L646.2,481.3L646.8,481.6L648.8,481.3L649.3,481.0L649.9,479.6L650.4,477.1L651.9,467.8L652.4,466.1L652.9,465.4L656.6,465.0L657.1,465.3L657.6,465.8L659.7,469.6L660.2,469.9L660.7,470.0L664.3,469.9L665.3,469.2L668.4,465.6L669.0,465.3L674.1,463.9L675.2,463.9L681.4,465.5L689.1,466.1L689.6,466.4L690.1,467.1L691.7,471.5L692.7,473.5L693.2,473.7L696.3,473.7L696.9,473.2L697.4,472.0L699.4,464.3L700.0,463.0L700.5,462.3L703.0,461.4L703.6,460.8L704.1,459.7L705.6,454.4L706.1,453.1L706.7,452.5L710.3,452.1L710.8,452.2L711.3,453.3L711.8,455.1L713.4,462.0L713.9,463.3L714.4,463.8L718.5,464.3L719.6,463.9L722.2,462.1L726.3,458.0L730.4,456.5L730.9,456.1L732.0,454.5L734.0,450.3L735.1,449.4L738.2,448.8L739.2,449.2L741.8,451.0L742.3,451.1L744.9,450.8L745.4,450.3L745.9,449.3L748.5,442.5L749.0,441.8L749.5,441.6L752.1,441.3L752.6,441.7L753.2,442.8L754.7,449.4L755.2,451.2L755.7,452.3L756.2,452.6L759.9,452.9L760.4,453.2L762.4,456.2L763.5,457.0L769.2,457.4L770.2,456.9L773.3,454.7L777.4,451.2L780.5,449.1L781.6,447.6L783.6,442.9L784.1,442.3L787.2,441.4L787.8,441.0L788.3,440.2L789.8,436.4L790.9,434.9L794.0,434.4L794.5,434.8L795.0,435.5L796.5,438.4L797.6,439.8L798.1,440.0L799.6,440.0L800.2,439.8L800.7,439.1L803.3,433.4L803.8,432.7L804.3,432.4L807.9,431.9L813.1,434.0L818.2,435.6L819.3,435.7L824.4,435.1L831.7,433.7L847.7,431.4L848.2,431.2L848.7,430.6L851.8,423.0L852.3,422.5L855.9,421.9L857.0,422.0L860.1,424.6L863.2,425.7L864.2,426.7L866.3,429.7L867.3,430.4L870.4,429.9L873.0,428.0L874.0,427.4L879.2,426.4L879.7,426.1L883.3,421.7L884.3,421.2L888.5,420.6L893.6,420.9L898.3,422.5L901.4,424.4L901.9,424.6L902.4,424.1L902.9,422.8L904.5,417.7L905.5,415.3L906.0,414.9L909.1,414.4L909.6,414.7L910.2,415.5L912.2,421.0L912.7,422.0L913.3,422.5L916.9,422.5L917.9,421.5L919.5,418.9L920.5,417.7L921.0,417.4L924.1,417.1L924.6,417.3L925.1,417.8L927.7,422.4L928.8,423.6L929.3,423.8L931.9,423.7L932.9,422.7L935.5,418.4L936.5,417.3L945.3,413.6L946.3,413.5L949.4,414.8L950.5,415.0L954.6,414.5L958.7,412.8L959.8,410.8L961.8,404.1L962.3,403.0L962.8,402.5L965.4,402.1L965.9,402.8L966.5,404.2L969.0,415.0L969.6,416.0L970.1,416.3L972.7,416.3L973.7,416.1L976.8,414.1L977.3,414.0L980.4,414.8L984.0,417.1L984.5,417.0L985.1,416.4L985.6,415.3L987.6,409.7L988.7,407.6L989.2,407.1L992.3,404.8L995.9,400.3L996.4,400.0L1000.0,399.6L1000.6,399.8L1001.1,400.7L1003.1,409.5L1003.7,410.8L1004.2,411.4L1006.8,411.6L1007.3,410.9L1009.3,403.1L1009.9,401.8L1010.4,401.2L1013.5,400.9L1014.0,401.1L1014.5,401.9L1016.6,407.7L1017.1,408.8L1017.6,409.4L1024.8,409.5L1031.0,408.0L1035.7,406.3L1039.3,402.7L1041.4,402.2L1041.9,402.3L1042.4,403.1L1043.9,407.7L1044.5,409.0L1045.0,409.8L1045.5,410.0L1049.1,410.0L1050.1,409.4L1053.2,405.4L1054.3,404.8L1056.3,404.1L1056.9,403.5L1057.4,402.0L1058.9,393.3L1059.4,390.8L1060.0,389.2L1060.5,388.7L1062.5,388.2L1063.1,388.3L1063.6,389.0L1065.6,395.1L1066.1,396.0L1066.7,396.3L1073.9,396.3L1074.4,396.1L1074.9,395.4L1077.0,390.5L1078.0,388.9L1082.2,388.2L1082.7,388.8L1083.2,390.1L1084.7,395.9L1085.3,397.1L1085.8,397.6L1089.4,398.0L1090.4,397.6L1094.6,395.1L1099.2,393.2L1104.4,392.4L1105.4,392.7L1109.0,395.4L1109.5,395.7L1110.1,395.7L1110.6,395.4L1113.2,392.8L1114.2,392.1L1118.8,390.5L1130.7,387.9L1131.7,388.0L1137.4,389.7L1143.1,389.3L1143.6,388.8L1144.1,387.9L1147.2,379.5L1148.3,377.9L1148.8,377.7L1151.9,377.4L1152.4,377.7L1155.0,381.6L1156.0,382.4L1159.6,382.7L1163.8,381.2L1169.4,381.8L1173.1,383.3L1176.7,386.3L1177.2,386.5L1177.7,386.5L1181.8,383.9L1182.9,383.4L1188.6,381.9L1193.2,381.1L1194.2,380.2L1196.8,377.0L1197.3,376.7L1200.4,376.2L1201.0,375.9L1201.5,375.2L1203.0,372.2L1204.1,371.1L1207.2,371.1L1207.7,371.7L1208.2,373.0L1210.3,381.4L1210.8,382.2L1211.3,382.2L1213.9,381.8L1214.4,380.8L1216.5,372.2L1217.0,370.9L1217.5,370.3L1221.1,369.9L1221.6,370.1L1222.1,370.5L1224.7,374.5L1225.2,374.8L1227.8,374.8L1228.3,374.6L1228.8,374.1L1230.4,371.1L1231.4,369.8L1235.6,368.7L1238.1,367.2L1239.2,366.9L1242.3,367.3L1242.8,367.5L1245.9,370.8L1246.9,371.3L1249.0,371.7L1250.0,372.3L1252.6,375.7L1253.1,376.0L1255.2,376.1L1255.7,375.6L1256.2,373.9L1257.3,367.3L1257.8,364.8L1258.3,363.5L1262.9,362.9L1269.1,363.5L1270.2,364.3L1272.2,367.1L1272.7,367.3L1275.3,367.3L1275.8,367.8L1276.4,369.0L1277.9,375.0L1278.4,376.4L1278.9,377.3L1283.1,377.8L1284.1,377.3L1286.7,375.3L1290.3,371.8L1291.3,371.0L1297.0,369.4L1301.7,367.6L1302.7,366.9L1304.3,365.3L1305.3,364.8L1307.9,364.8L1308.4,365.1L1308.9,365.7L1310.5,368.8L1311.0,369.5L1311.5,369.8L1314.6,369.8L1315.1,369.4L1315.6,368.2L1318.7,356.8L1319.2,355.5L1319.8,354.8L1323.4,354.4L1323.9,354.6L1324.4,355.5L1324.9,357.1L1326.5,363.0L1327.0,364.0L1327.5,364.4L1331.6,364.8L1332.1,364.5L1332.7,363.7L1334.7,359.0L1335.2,358.5L1337.8,358.2L1338.3,358.6L1338.9,359.5L1340.9,365.5L1341.4,366.1L1344.0,366.1L1344.5,365.3L1345.1,363.5L1346.6,353.8L1347.1,351.3L1347.6,349.9L1348.2,349.6L1351.8,348.7L1352.8,348.7L1356.4,349.2L1356.9,349.6L1358.0,351.7L1360.0,357.7L1360.6,358.4L1361.1,358.6L1366.2,358.5L1371.4,357.1L1372.4,356.4L1375.0,352.8L1376.0,352.3L1380.7,351.9L1384.8,353.6L1389.5,354.3L1399.3,354.3L1400.3,353.1L1402.4,349.3L1402.9,348.8L1403.4,348.6L1405.0,348.6L1405.5,348.7L1406.0,349.4L1408.6,357.5L1409.1,358.7L1409.6,359.3L1416.3,359.3L1420.5,358.6L1421.5,357.0L1423.1,353.0L1423.6,352.1L1424.1,351.8L1429.2,351.2"/>
<path stroke="#ff44c4" d="M68.8,738.1L69.3,737.4L70.9,734.3L71.4,732.9L73.4,723.8L74.0,722.0L74.5,720.9L75.0,720.6L77.1,720.1L77.6,719.7L79.6,716.5L80.7,714.3L83.3,707.2L85.3,699.3L85.8,698.1L86.4,697.5L92.0,694.7L92.6,693.3L93.1,690.7L95.1,676.5L95.7,674.8L98.2,672.0L98.8,670.6L100.8,659.0L101.9,655.3L103.4,653.7L104.4,653.2L108.6,653.9L112.7,653.1L117.9,652.7L119.9,652.3L120.5,648.7L122.0,625.0L122.5,622.6L123.6,620.5L124.1,619.9L127.7,616.9L129.7,613.0L130.8,610.2L132.8,602.2L133.9,599.6L134.4,599.2L139.0,597.9L139.6,597.2L140.1,595.7L141.6,588.7L142.1,587.5L142.7,587.0L147.3,585.7L147.8,585.3L148.3,584.3L150.4,578.3L151.4,576.6L158.7,573.1L170.6,566.2L171.1,566.2L171.6,566.6L174.2,569.3L176.7,570.1L177.8,569.8L181.4,567.6L182.4,566.5L185.5,561.8L187.6,555.7L188.1,554.6L188.6,554.1L191.2,553.5L196.4,552.8L196.9,552.2L197.4,551.1L198.4,547.9L199.0,546.7L199.5,546.1L203.1,544.7L209.8,543.7L215.0,542.7L219.1,541.6L220.1,541.0L222.2,539.0L223.2,538.4L228.9,538.0L233.0,538.6L233.6,538.0L234.1,535.7L235.1,527.9L235.6,525.3L236.1,524.3L243.4,522.9L247.5,521.4L250.6,518.6L255.3,516.2L256.3,515.2L258.4,512.6L259.4,511.7L262.0,511.0L262.5,511.1L263.0,511.5L265.6,515.3L266.6,516.1L271.3,516.6L274.4,515.4L274.9,514.6L275.4,513.0L277.5,504.0L278.0,502.9L278.5,502.6L282.1,501.4L282.6,501.4L283.1,501.7L285.7,505.5L286.8,506.4L290.9,507.2L291.4,507.1L291.9,506.7L294.0,503.5L294.5,503.0L299.7,501.0L303.3,498.9L303.8,498.3L304.3,497.2L306.4,490.7L306.9,489.8L307.4,489.4L311.6,487.8L315.7,487.1L319.8,486.8L320.9,486.9L324.0,489.4L325.0,489.8L329.1,490.5L332.2,489.9L333.2,489.2L336.9,484.0L343.6,475.8L345.6,474.9L346.2,475.1L346.7,475.5L348.2,478.1L348.7,478.6L349.3,478.6L351.3,476.5L353.9,471.1L354.4,470.5L354.9,470.2L358.0,469.6L359.1,469.6L365.8,471.0L366.3,470.9L366.8,470.3L368.9,465.8L369.4,465.1L369.9,464.8L374.1,463.8L385.4,463.0L390.6,462.8L391.6,462.2L393.2,460.5L394.2,459.6L397.8,458.1L398.8,457.0L401.4,453.2L402.5,452.6L405.6,452.0L406.1,452.0L409.2,454.1L410.2,454.3L413.8,452.8L418.5,451.3L422.1,448.1L423.6,447.3L427.3,446.6L431.4,447.4L434.5,447.4L435.0,447.1L435.5,446.3L437.6,441.2L438.1,440.5L438.6,440.2L441.7,439.7L442.2,439.9L444.3,443.1L445.3,444.0L449.5,444.8L454.1,444.4L455.1,443.6L457.7,440.0L458.8,439.2L462.4,437.9L466.5,438.6L469.1,438.0L470.6,433.2L474.8,431.8L475.8,431.7L478.9,432.3L479.4,432.6L480.5,434.0L482.5,438.1L483.6,439.5L487.2,440.3L488.2,439.7L491.3,436.0L495.9,433.6L496.5,433.1L499.6,427.9L500.6,426.9L504.2,425.5L509.4,423.0L514.5,422.4L515.6,421.8L517.6,420.0L518.7,419.3L535.2,416.8L536.2,416.5L539.8,414.9L544.5,414.1L545.5,414.3L549.7,415.8L553.3,416.5L554.3,415.7L557.4,411.4L560.5,405.7L561.0,405.2L561.5,405.0L565.2,404.5L568.8,406.1L574.5,407.0L579.1,406.9L582.2,405.4L583.2,405.3L586.9,406.1L587.4,406.5L589.4,409.1L589.9,409.4L590.5,409.5L594.6,408.7L595.6,407.7L599.8,401.3L602.9,397.5L603.4,397.2L606.5,396.3L610.1,393.5L611.1,392.9L619.9,391.2L620.4,391.0L624.0,386.9L624.6,386.6L626.6,386.1L627.1,386.0L627.7,386.5L630.2,392.4L630.8,392.9L634.4,392.8L639.0,391.0L643.1,387.1L644.2,386.7L647.3,386.7L647.8,386.9L650.9,390.5L651.4,390.9L651.9,391.0L655.0,390.4L656.1,389.8L659.7,385.4L663.3,381.8L664.3,381.3L667.4,380.7L668.5,381.1L671.6,384.7L672.6,385.2L675.7,385.6L676.7,384.6L678.8,380.9L679.8,379.6L684.0,377.8L687.1,374.9L687.6,374.7L688.1,374.8L690.2,376.2L693.2,377.3L695.8,378.8L696.3,378.7L698.4,376.6L699.4,376.2L702.0,376.2L705.1,377.8L707.2,377.4L708.2,376.6L710.3,374.0L712.9,372.9L714.4,372.7L717.5,373.1L720.6,374.6L724.2,375.6L727.9,377.3L729.9,377.4L731.0,376.6L733.0,373.3L733.5,372.9L735.6,372.1L739.2,367.9L742.3,365.9L743.4,365.7L745.9,366.2L746.4,366.1L755.2,361.4L756.8,361.1L758.8,361.4L759.4,361.8L759.9,362.4L761.9,366.6L762.5,367.2L764.0,367.6L764.5,367.4L765.0,366.5L767.1,359.5L767.6,358.3L768.1,357.7L774.3,354.6L778.5,353.7L779.5,352.8L781.6,350.3L782.1,350.1L785.2,350.1L785.7,350.3L786.2,350.8L788.3,354.7L788.8,355.3L789.3,355.6L791.4,356.1L791.9,356.0L792.9,354.9L797.1,347.3L797.6,346.7L798.1,346.4L804.8,344.9L811.0,343.2L812.0,343.3L813.6,343.8L814.1,344.6L814.6,346.0L815.7,349.8L816.2,350.8L816.7,351.3L820.8,352.5L821.3,352.2L821.9,351.6L823.9,348.4L826.0,346.9L826.5,347.1L827.0,347.8L828.6,350.8L829.6,352.2L832.2,354.1L836.8,358.6L837.9,359.0L839.9,359.2L840.5,358.8L841.0,357.8L842.5,353.0L843.6,350.8L846.1,348.8L846.7,348.8L847.2,349.2L849.2,352.5L851.3,355.4L851.8,355.9L852.3,356.1L852.8,356.0L854.9,355.5L855.4,354.9L855.9,353.8L857.5,348.7L858.5,346.5L861.6,344.9L866.8,345.8L879.2,346.6L882.3,347.4L883.3,348.2L884.9,350.3L885.9,351.3L887.5,352.3L888.0,352.5L888.5,352.4L891.6,350.1L894.7,347.0L898.8,339.5L901.4,337.5L901.9,337.3L902.4,337.4L902.9,337.9L906.0,341.7L908.6,344.3L909.1,344.6L909.7,344.6L914.8,342.5L915.9,341.7L916.4,340.9L916.9,339.5L918.4,333.0L919.0,332.0L919.5,331.9L922.1,331.7L922.6,331.9L923.1,333.0L924.6,339.1L925.2,340.2L927.7,341.9L928.8,342.2L932.4,342.5L936.5,342.2L937.6,341.8L940.7,339.9L944.8,338.1L947.9,335.5L950.5,334.8L951.0,334.9L951.5,335.2L953.0,337.2L954.1,338.1L957.2,338.5L957.7,338.5L958.2,337.6L959.8,332.1L960.3,331.0L960.8,330.6L963.4,329.5L967.5,330.2L972.2,331.6L975.3,331.9L976.3,331.8L978.9,331.1L979.4,330.4L980.9,327.2L981.5,326.6L984.0,325.9L984.6,326.2L985.1,326.7L986.6,329.3L987.7,330.3L991.3,330.9L992.3,330.4L994.4,328.3L995.4,327.6L1001.1,326.4L1005.7,325.1L1010.4,323.4L1011.4,322.2L1013.5,318.3L1014.0,317.9L1014.5,317.8L1015.5,317.6L1016.6,318.0L1018.6,320.2L1019.7,320.9L1023.3,322.3L1026.9,323.0L1028.5,323.0L1036.2,321.5L1037.2,321.7L1041.4,323.3L1045.0,324.0L1046.0,323.9L1049.6,323.1L1053.3,321.4L1057.4,319.8L1067.7,317.9L1068.2,317.4L1069.8,314.1L1070.3,313.5L1072.9,312.7L1073.4,312.9L1073.9,313.4L1075.5,316.0L1076.5,317.0L1080.1,317.8L1081.1,317.6L1088.9,313.7L1094.1,312.7L1101.8,312.3L1111.6,312.9L1112.1,312.7L1112.6,312.1L1114.7,307.7L1115.7,306.2L1119.4,305.5L1120.4,305.9L1122.5,307.5L1123.0,307.8L1125.6,307.5L1126.1,307.0L1126.6,306.1L1128.1,301.8L1128.7,300.9L1129.2,300.5L1133.3,301.2L1135.9,302.1L1136.4,302.6L1136.9,303.5L1139.0,309.2L1139.5,310.1L1140.0,310.4L1142.1,310.4L1142.6,310.2L1143.1,309.7L1144.7,306.4L1145.7,305.0L1149.3,304.5L1150.4,303.7L1152.9,300.1L1153.5,299.8L1157.6,298.7L1159.7,47.7 L1426.4,47.7"/>
<path stroke="#ff4cb6" d="M69.7,739.6L70.2,738.5L73.8,726.4L74.3,725.3L74.8,724.7L76.9,723.1L77.4,722.2L77.9,720.5L80.0,710.2L80.5,708.8L81.0,708.2L83.1,707.5L85.7,706.2L86.2,705.4L86.7,703.8L87.8,698.6L88.3,696.9L88.8,696.0L91.9,695.2L97.6,692.6L98.6,691.3L101.2,686.9L102.2,685.9L103.8,685.0L104.8,684.7L111.0,684.0L111.5,683.6L112.0,681.7L113.6,670.0L114.1,667.7L116.7,663.5L117.7,662.5L120.8,661.3L121.8,660.6L123.4,658.6L124.4,656.9L127.0,650.6L128.0,648.8L128.6,648.5L130.6,647.9L131.7,647.3L137.9,639.6L141.5,636.5L142.5,634.6L145.1,628.1L147.2,624.0L148.2,622.4L148.7,622.1L150.8,621.6L159.6,619.8L160.1,619.4L161.1,617.4L162.7,612.8L163.7,611.2L165.2,610.1L165.8,609.4L170.4,598.6L171.4,597.1L175.6,595.4L181.2,594.1L185.9,592.3L190.5,590.8L194.2,590.3L194.7,590.4L195.2,590.8L197.3,594.1L197.8,594.8L198.3,595.1L201.4,594.4L201.9,593.3L202.4,591.3L204.5,579.8L205.0,578.0L205.5,577.1L209.7,576.4L210.7,576.7L213.3,578.0L214.3,578.2L217.9,577.5L219.0,577.1L222.6,573.5L224.6,569.1L225.1,568.4L225.7,568.2L235.0,567.4L235.5,567.2L236.0,566.4L236.5,565.0L238.6,558.4L239.1,557.5L239.6,557.1L242.2,556.5L242.7,556.7L243.2,557.3L245.3,562.1L245.8,562.8L246.3,563.1L248.4,562.3L248.9,561.4L249.4,559.7L251.5,551.0L252.0,549.5L252.5,548.6L255.6,548.0L256.1,548.0L257.2,549.1L259.2,552.7L260.3,553.9L262.9,554.2L263.4,554.0L263.9,553.3L266.5,547.3L267.5,545.7L271.6,543.3L279.9,540.0L284.5,537.8L289.2,536.2L291.8,535.0L292.3,534.5L292.8,533.6L294.9,527.8L295.4,526.9L295.9,526.5L299.0,525.9L299.5,526.0L300.0,526.4L302.6,529.6L303.7,530.0L306.2,529.3L307.3,528.0L309.3,524.2L309.9,523.7L311.9,522.7L312.4,522.6L313.0,523.2L313.5,524.3L315.0,528.9L315.5,529.8L316.1,530.3L318.6,530.9L319.7,530.0L325.9,520.7L329.0,516.8L330.0,516.0L332.6,515.3L333.6,514.5L336.7,510.5L341.4,502.4L342.9,500.3L343.9,499.6L345.5,500.0L346.0,500.4L346.5,501.1L348.6,505.6L349.1,506.3L349.6,506.6L352.2,507.1L353.2,506.5L355.8,503.7L359.4,499.3L363.1,494.2L366.2,492.6L367.2,493.0L369.3,495.1L370.3,495.8L375.4,495.8L380.1,495.1L385.3,493.4L386.3,492.6L389.4,488.9L393.0,487.4L393.5,487.3L394.6,488.0L397.1,491.1L397.7,491.3L398.2,491.3L401.3,490.7L407.0,488.0L411.6,487.2L412.1,486.8L413.2,485.3L415.2,481.1L416.3,479.8L426.1,474.9L431.2,473.9L437.4,474.7L441.6,474.0L442.6,473.5L445.2,471.6L446.2,471.1L449.8,470.4L454.0,471.1L454.5,471.0L455.0,470.8L458.6,468.0L459.6,467.5L462.7,466.9L463.8,466.9L469.5,468.4L471.0,469.7L473.6,470.2L474.6,470.1L484.9,461.6L489.1,459.9L494.2,458.9L495.3,458.4L497.9,456.4L498.9,454.8L500.4,451.8L501.0,451.2L501.5,450.9L504.6,450.7L505.1,450.8L505.6,451.3L508.2,454.8L512.8,459.4L513.9,459.9L517.5,460.5L518.0,460.5L518.5,460.3L522.1,455.4L526.3,452.7L529.9,448.5L530.4,448.2L538.7,446.7L539.2,446.7L539.7,447.1L542.3,451.3L543.3,452.7L545.9,453.4L546.4,453.3L546.9,452.8L548.5,449.8L549.5,448.4L550.0,448.2L553.1,447.6L553.6,448.0L554.2,448.8L555.7,453.0L556.7,454.5L560.4,455.2L561.4,454.5L564.0,451.3L568.6,446.5L571.7,442.7L572.8,442.0L576.4,441.4L576.9,441.6L580.5,444.1L583.6,445.4L584.1,445.5L584.6,445.3L587.7,442.3L590.3,437.6L590.8,437.1L591.3,436.8L594.4,436.6L595.0,436.9L595.5,437.6L597.0,440.8L597.5,441.6L598.1,442.1L603.2,441.8L608.4,441.4L608.9,440.3L609.4,437.8L610.5,429.4L611.0,426.7L611.5,425.5L615.1,426.0L618.7,428.8L622.3,429.7L623.4,429.6L626.0,427.8L628.5,427.3L629.1,427.5L629.6,428.2L631.6,433.9L632.2,434.8L632.7,435.3L635.8,435.9L636.3,435.5L636.8,434.6L638.3,430.1L639.4,428.2L643.0,427.2L643.5,426.8L646.6,421.7L647.6,420.9L650.2,420.1L650.7,419.6L652.8,416.4L653.3,415.9L653.8,415.6L658.0,415.0L663.1,414.9L664.2,415.3L666.8,417.2L667.3,417.3L667.8,417.1L672.4,414.1L677.6,412.2L681.2,408.1L681.7,407.7L683.8,407.2L684.8,407.2L685.3,407.4L688.4,409.9L689.0,410.1L690.5,409.4L694.1,411.5L696.7,412.4L697.2,412.1L699.3,408.9L700.3,407.9L703.9,406.5L708.6,406.0L716.9,403.6L718.9,402.9L721.5,401.4L722.5,401.4L724.1,402.1L724.6,402.6L726.7,405.8L727.2,406.3L727.7,406.5L729.8,406.7L730.8,406.7L733.9,406.1L739.1,406.3L742.7,405.5L746.8,403.7L750.4,403.0L751.5,403.3L754.0,404.5L755.1,404.6L757.1,404.4L758.2,403.5L760.8,399.0L762.3,396.9L763.3,395.9L765.9,395.6L766.4,395.8L767.0,396.3L768.5,399.0L769.0,399.7L769.5,400.1L772.1,399.5L772.6,398.8L773.2,397.4L774.2,393.2L774.7,391.8L775.2,391.2L778.3,390.2L785.6,389.2L786.6,388.7L788.6,387.1L792.3,386.3L793.3,386.4L796.9,387.8L797.9,387.9L810.9,385.4L811.9,385.0L816.5,382.0L820.7,381.0L821.2,381.4L821.7,382.2L823.8,386.7L824.3,387.2L826.9,387.8L827.4,387.5L827.9,386.8L830.0,383.0L830.5,382.5L833.1,381.9L834.1,382.4L835.7,384.0L836.7,384.7L839.8,386.1L842.9,385.7L847.5,384.6L848.0,383.5L848.6,377.7L850.1,343.2L850.6,337.7L851.1,336.8L855.8,336.6L856.3,341.0L856.8,350.5L857.9,377.8L858.4,385.5L858.9,388.3L861.5,389.7L865.1,393.8L865.6,394.1L868.2,394.1L868.7,393.3L869.2,391.8L870.8,385.1L871.3,383.5L871.8,382.5L874.9,380.7L878.5,375.8L879.6,374.7L882.7,373.1L886.3,372.0L889.4,369.8L889.9,369.7L890.4,369.9L894.5,372.6L895.6,372.9L899.2,372.2L903.8,372.9L908.5,372.1L915.2,372.4L920.4,372.1L922.9,371.7L924.0,371.2L927.1,367.2L928.1,366.3L930.2,365.0L931.2,364.5L935.3,363.5L936.4,363.5L941.5,365.4L945.1,366.2L946.2,366.1L949.3,364.9L950.3,364.7L955.0,366.3L959.6,366.8L964.8,365.5L969.9,363.6L973.6,362.8L974.6,362.1L976.1,360.6L977.2,359.9L980.8,358.5L984.9,357.6L990.6,356.7L1000.9,358.3L1005.6,358.1L1006.1,357.9L1006.6,357.0L1008.7,348.3L1009.2,346.7L1009.7,345.8L1013.8,344.3L1020.0,344.3L1020.6,344.6L1021.1,345.4L1022.6,349.0L1023.7,350.5L1031.4,353.7L1032.4,353.9L1045.4,351.2L1053.6,346.3L1054.6,346.0L1069.6,343.5L1074.3,344.1L1075.3,344.1L1078.9,341.6L1083.1,339.8L1086.7,336.5L1090.8,334.7L1094.4,332.1L1095.5,331.8L1105.8,330.0L1110.9,330.7L1116.1,333.6L1120.8,335.2L1124.9,335.0L1128.5,336.7L1129.5,336.3L1133.7,333.7L1136.8,333.0L1137.8,333.0L1143.0,334.7L1143.5,334.5L1144.0,333.7L1146.6,326.9L1147.6,325.1L1148.1,324.8L1150.7,324.5L1151.7,325.3L1153.3,327.4L1153.8,327.8L1158.5,328.8L1159.5,329.8L1161.6,332.6L1162.6,333.5L1166.2,333.6L1166.7,332.6L1167.2,330.4L1168.3,323.5L1168.8,321.4L1169.3,320.6L1172.9,320.4L1173.4,321.1L1174.0,322.6L1176.0,332.5L1176.5,333.6L1179.6,334.3L1180.7,333.8L1184.8,331.2L1190.5,330.0L1191.5,330.0L1196.2,330.6L1199.3,330.4L1199.8,330.0L1200.3,329.3L1202.4,324.7L1202.9,324.0L1203.4,323.6L1207.0,323.2L1211.1,324.8L1215.3,324.5L1216.8,324.1L1223.0,321.4L1224.1,321.1L1228.2,320.7L1229.2,320.8L1239.6,323.6L1244.7,326.1L1249.4,326.7L1249.9,326.2L1250.4,325.2L1252.0,320.9L1253.0,318.9L1253.5,318.5L1257.1,317.3L1259.2,315.1L1260.2,314.3L1263.3,313.8L1263.8,314.1L1265.4,315.5L1266.4,316.2L1270.5,317.3L1271.6,316.7L1274.7,312.7L1275.2,312.4L1278.8,311.9L1279.8,311.0L1282.4,307.5L1285.5,306.3L1286.6,306.3L1290.7,307.5L1291.7,308.9L1293.3,311.8L1294.3,312.7L1297.4,313.7L1302.1,314.8L1307.2,314.4L1310.3,313.2L1310.8,312.5L1311.3,311.0L1312.9,303.9L1313.4,302.2L1313.9,301.2L1317.5,300.6L1319.1,300.7L1322.7,302.1L1323.2,302.6L1323.7,303.8L1325.8,311.3L1326.3,312.3L1326.8,312.6L1328.9,313.0L1329.4,312.9L1329.9,312.4L1332.0,307.8L1333.0,306.1L1342.9,300.3L1343.9,299.9L1349.6,299.5L1354.7,300.6L1357.8,303.1L1358.3,303.8L1360.9,310.0L1361.4,310.5L1364.0,311.0L1364.5,310.9L1365.1,310.5L1367.1,307.1L1368.2,306.1L1372.3,305.3L1375.9,303.7L1380.6,302.5L1381.6,302.5L1385.7,303.2L1389.9,306.1L1394.5,306.8L1395.5,306.1L1399.7,302.5L1402.8,300.8L1403.8,300.4L1409.5,299.4L1413.6,297.7L1414.6,296.5L1416.2,293.8L1417.2,292.9L1420.3,292.5L1421.4,293.2L1422.9,295.4L1423.9,296.2L1429.6,296.9"/>
<path stroke="#ff58aa" d="M70.6,739.7L71.1,738.8L75.7,726.5L78.3,720.6L78.8,720.0L79.3,719.7L81.4,719.2L81.9,718.9L84.0,716.4L84.5,714.9L85.0,712.2L86.1,704.7L86.6,702.3L87.1,701.3L89.7,700.6L91.7,698.8L92.8,697.4L94.8,693.5L95.4,692.8L95.9,692.5L97.9,692.0L99.0,691.2L101.6,686.8L102.6,685.6L105.7,684.8L110.3,684.7L110.8,684.5L111.4,684.0L113.4,679.8L116.0,670.3L117.0,667.6L120.7,661.3L121.2,660.9L123.8,660.2L124.3,659.6L127.4,650.9L129.4,645.7L130.0,645.1L134.1,644.1L136.7,642.2L137.7,641.2L140.3,637.4L141.3,636.2L146.0,633.0L152.2,630.8L159.9,627.7L160.9,626.6L163.0,623.5L164.0,622.3L167.1,621.4L173.3,620.3L173.9,619.1L174.4,616.6L175.4,608.6L175.9,605.7L176.4,604.0L180.6,602.0L191.4,598.4L196.6,597.3L200.2,595.6L201.2,594.6L204.3,589.2L205.4,588.2L210.0,587.3L214.7,587.2L219.3,585.5L220.3,584.4L223.4,578.9L225.5,571.9L226.0,570.7L226.5,570.2L236.4,568.4L237.4,566.8L239.5,561.4L240.0,560.6L240.5,560.1L243.1,559.5L243.6,559.6L244.6,560.9L246.2,564.0L246.7,564.6L247.2,564.7L251.9,559.4L255.5,553.4L256.0,552.9L259.1,551.1L262.7,546.1L266.8,544.3L269.9,542.1L271.0,540.7L272.5,537.7L273.0,536.9L273.5,536.5L276.6,537.0L277.2,537.3L277.7,538.1L280.8,549.0L281.3,550.1L281.8,550.5L286.5,551.3L291.1,550.8L291.6,550.0L292.1,548.2L293.2,543.3L293.7,542.0L294.2,541.5L297.3,540.9L297.8,541.2L298.3,542.1L299.9,546.3L300.9,547.9L305.1,549.3L306.1,549.3L311.3,546.7L320.5,539.1L325.2,533.5L329.8,526.3L332.4,523.0L333.5,522.1L337.1,520.7L338.1,520.7L340.2,521.2L341.2,522.1L343.3,525.9L343.8,526.4L344.3,526.5L346.4,526.0L347.4,525.3L350.5,521.7L351.5,521.1L361.4,518.1L373.7,515.4L378.9,513.7L379.9,512.9L384.1,506.6L384.6,506.2L387.7,505.0L389.2,504.6L399.6,502.9L404.2,500.4L408.4,498.7L409.4,498.6L413.5,499.3L414.0,498.4L414.6,496.7L416.1,488.9L416.6,487.1L417.1,486.2L421.3,485.4L421.8,485.5L422.3,486.0L424.4,489.2L425.4,489.8L430.6,490.6L447.1,490.6L451.7,492.1L452.8,491.7L454.8,490.1L455.4,489.5L458.5,482.8L459.5,481.7L462.6,481.0L463.6,481.0L469.3,482.5L470.8,481.0L475.5,481.7L480.7,480.9L486.3,480.6L487.4,480.3L490.5,479.3L491.0,478.8L491.5,477.9L493.6,472.1L494.1,471.4L494.6,471.1L499.3,470.7L503.9,471.2L504.9,472.4L506.5,475.5L507.0,476.2L507.5,476.6L510.6,476.9L511.1,476.7L511.7,475.9L513.7,469.8L514.2,468.9L514.8,468.5L517.9,468.3L518.4,468.6L518.9,469.2L520.4,472.5L521.5,473.8L525.1,474.1L525.6,473.6L526.1,472.8L528.7,467.5L529.7,466.5L533.3,465.1L540.6,463.5L541.1,463.7L541.6,464.6L543.2,469.0L543.7,469.5L545.7,469.9L546.3,469.5L546.8,468.0L547.8,461.7L548.3,459.2L548.8,457.7L552.5,454.8L553.5,454.7L562.8,457.0L563.3,456.6L563.8,455.6L565.9,449.8L566.4,449.2L569.5,448.5L570.0,448.5L570.5,448.7L573.1,451.8L574.1,452.7L576.7,453.4L577.2,453.3L577.8,452.7L580.9,446.1L581.4,445.6L584.0,445.0L584.5,445.6L585.0,446.8L587.1,453.8L587.6,454.6L590.2,455.2L590.7,454.8L591.2,454.0L592.7,450.4L593.8,448.9L596.9,447.5L600.0,446.6L601.0,445.7L603.1,443.1L604.1,442.2L608.8,441.4L609.8,442.0L611.9,444.0L612.9,444.7L616.5,444.0L617.0,443.7L621.2,438.1L624.8,432.1L625.8,431.4L627.9,430.9L628.4,431.4L628.9,432.6L630.4,438.7L631.0,440.3L631.5,441.2L632.0,441.5L635.1,442.1L636.1,441.9L638.2,440.8L643.9,437.6L647.5,436.1L653.2,433.5L657.3,434.3L658.3,435.1L660.4,437.1L661.4,437.6L670.2,436.1L675.9,435.9L680.0,432.8L684.2,428.7L685.2,427.9L690.4,425.8L695.0,424.9L700.2,423.3L701.2,423.5L705.9,425.7L709.0,426.1L710.0,425.8L713.1,424.1L716.7,424.0L717.7,424.4L720.8,426.6L723.9,427.4L724.5,427.1L725.5,425.5L726.0,423.3L727.5,408.1L728.1,406.5L735.3,407.3L741.0,408.2L746.1,409.9L750.8,410.9L755.4,412.7L758.0,413.3L759.1,413.3L763.7,411.7L767.8,408.6L768.9,407.1L771.5,402.1L772.0,401.5L772.5,401.4L774.0,402.0L774.6,403.3L776.1,411.7L776.6,413.2L777.1,413.7L779.7,414.2L780.2,414.0L783.3,411.8L787.5,410.0L788.5,409.3L792.1,406.4L795.2,402.6L796.2,401.9L800.9,401.2L806.6,402.0L811.2,401.2L814.8,399.4L818.5,396.0L821.6,395.1L822.6,395.3L826.2,397.5L830.8,401.1L835.0,401.9L836.0,401.3L839.6,397.8L842.7,396.7L843.2,395.5L843.8,393.5L844.8,388.4L845.3,387.0L845.8,386.4L848.4,384.5L852.0,383.7L853.6,383.7L856.7,384.3L857.7,385.4L859.3,388.4L860.3,389.7L862.9,390.5L863.4,390.8L866.0,393.8L866.5,394.1L868.0,394.1L868.6,393.5L869.1,392.1L871.1,383.2L871.7,382.0L872.2,381.5L876.8,380.0L881.0,379.3L882.0,379.3L885.1,380.8L886.1,382.3L887.7,385.3L888.2,385.9L888.7,386.2L890.8,386.2L891.3,386.0L891.8,385.4L893.9,381.0L894.4,380.2L894.9,379.9L898.0,379.3L898.5,379.7L899.0,380.9L900.1,384.7L900.6,385.8L901.1,386.3L903.2,386.6L903.7,386.2L904.2,385.0L906.3,376.4L906.8,375.1L907.3,374.6L910.4,374.0L910.9,374.3L911.4,375.0L913.5,379.7L914.5,381.4L915.0,382.0L915.6,382.3L918.7,383.1L921.2,384.1L921.8,384.1L922.3,383.8L924.9,379.1L925.9,377.7L931.1,376.0L936.2,376.1L938.8,377.3L939.3,377.8L939.8,378.9L941.4,384.1L941.9,385.0L944.5,386.3L945.0,386.2L945.5,385.7L947.6,383.1L950.7,380.6L951.7,378.5L953.3,373.9L953.8,372.8L954.3,372.2L957.4,371.0L957.9,371.3L958.4,372.5L960.5,381.4L961.0,382.7L961.5,383.3L964.6,384.6L965.1,384.3L965.7,383.4L967.2,379.3L968.2,377.7L972.9,376.1L978.1,375.5L979.1,374.1L981.7,368.7L982.7,367.7L986.8,366.2L995.1,364.5L998.7,363.1L999.2,363.1L999.7,363.6L1002.3,368.9L1004.9,371.0L1006.5,371.7L1013.2,373.2L1013.7,372.8L1014.2,372.1L1015.8,369.0L1016.8,367.8L1020.9,366.3L1035.9,363.8L1036.4,364.6L1036.9,366.6L1038.0,372.2L1038.5,373.8L1039.0,374.5L1042.1,375.8L1042.6,374.3L1043.1,371.1L1044.2,362.3L1044.7,359.9L1045.2,359.1L1048.8,358.5L1049.3,358.9L1049.8,360.4L1051.4,369.4L1051.9,370.8L1055.0,372.1L1056.0,372.3L1059.1,371.6L1062.2,369.4L1063.3,367.2L1064.3,363.4L1064.8,362.2L1065.3,361.7L1073.6,358.7L1075.2,358.6L1077.2,359.1L1077.7,359.4L1080.3,363.2L1081.4,363.8L1091.2,365.4L1098.4,365.3L1103.0,364.5L1103.6,363.6L1104.1,361.8L1105.1,356.8L1105.6,355.4L1106.1,354.9L1112.3,354.8L1117.0,354.4L1118.0,354.7L1120.6,355.9L1121.1,355.9L1121.6,355.6L1124.2,353.0L1126.8,350.1L1127.3,349.8L1130.4,349.4L1130.9,349.6L1131.5,350.0L1133.0,352.6L1134.0,353.6L1139.2,354.7L1140.2,354.7L1144.4,353.7L1145.4,352.7L1148.5,347.8L1149.0,347.4L1151.6,347.0L1152.1,347.6L1152.6,349.5L1154.2,360.4L1154.7,363.3L1155.2,365.0L1155.7,365.3L1158.8,365.3L1159.3,364.0L1159.9,361.4L1161.4,349.7L1161.9,347.2L1162.4,346.1L1166.1,345.7L1169.7,347.1L1170.7,346.7L1174.3,344.0L1175.4,343.5L1184.7,341.2L1193.9,340.0L1194.5,340.1L1195.0,340.8L1197.0,347.3L1198.1,349.6L1198.6,349.9L1200.1,349.9L1200.7,349.8L1201.2,349.1L1201.7,348.0L1203.8,341.9L1205.8,336.9L1206.3,336.3L1206.9,336.0L1211.0,335.4L1214.6,336.2L1215.6,337.1L1218.2,339.9L1219.3,340.5L1224.9,341.1L1239.9,338.7L1246.1,340.0L1251.3,342.4L1257.0,342.8L1261.6,342.4L1262.1,341.8L1262.6,340.3L1264.2,332.8L1264.7,330.9L1265.2,329.9L1269.4,328.7L1270.4,327.4L1271.9,324.4L1272.5,323.8L1273.0,323.5L1279.7,322.4L1284.3,321.9L1285.4,321.7L1289.5,319.9L1292.1,316.6L1293.1,316.1L1296.7,315.7L1297.2,316.3L1297.8,317.6L1299.3,323.2L1299.8,324.4L1300.3,325.1L1303.4,326.2L1306.5,328.9L1307.6,329.0L1310.2,328.7L1310.7,328.5L1311.2,327.9L1312.7,324.6L1313.8,323.0L1314.3,322.8L1316.4,322.5L1316.9,322.5L1317.4,322.8L1320.5,326.7L1321.0,327.1L1321.5,327.3L1325.7,326.2L1326.7,325.4L1329.3,322.9L1329.8,322.8L1330.3,323.0L1333.4,325.9L1333.9,326.0L1336.5,325.5L1337.0,325.1L1337.5,324.2L1340.1,316.9L1340.6,316.2L1341.2,316.0L1343.7,315.8L1344.3,316.2L1346.3,321.2L1346.8,322.1L1347.3,322.5L1351.5,322.8L1352.5,322.7L1357.2,319.9L1360.8,316.4L1363.9,314.2L1364.9,313.6L1368.0,312.5L1369.0,310.3L1370.6,305.1L1371.1,304.0L1371.6,303.6L1373.7,303.3L1374.2,303.6L1375.8,306.7L1376.3,307.1L1376.8,307.0L1380.4,305.2L1381.4,305.0L1387.1,305.4L1391.8,306.2L1392.8,307.6L1394.4,311.1L1395.4,312.7L1395.9,313.0L1399.0,313.6L1399.5,313.1L1400.0,312.0L1402.1,304.5L1402.6,303.6L1405.2,302.7L1406.2,302.8L1408.8,305.3L1409.8,306.1L1414.0,306.6L1415.0,306.2L1417.6,303.3L1418.6,302.6L1422.2,303.0L1429.5,304.4"/>
<path stroke="#ff7a8c" d="M92.6,736.0L93.1,736.5L95.2,739.3L97.2,743.3L97.7,744.0L98.3,744.2L104.4,740.5L107.5,738.2L108.6,737.3L111.2,734.2L113.7,733.4L114.8,732.8L117.9,729.0L120.5,726.4L122.5,724.7L123.0,723.4L123.6,721.2L124.6,715.2L125.6,710.9L126.7,708.0L127.2,707.3L130.3,705.8L133.4,702.3L137.0,700.8L138.0,699.8L139.6,697.8L140.6,696.8L144.2,694.6L147.8,691.2L150.4,689.9L151.4,688.2L153.0,684.7L154.0,683.4L155.1,682.7L156.1,682.3L156.6,682.4L160.2,683.8L163.3,684.6L164.4,684.4L167.5,682.2L169.5,682.0L170.0,681.6L170.6,680.7L173.1,674.8L175.7,669.7L176.2,669.1L178.3,668.3L178.8,667.8L179.3,666.8L181.4,660.7L181.9,659.6L182.4,659.0L184.5,658.7L185.0,659.0L187.6,663.7L188.1,664.3L188.6,664.4L191.2,664.2L191.7,663.9L192.3,663.3L194.3,659.3L195.4,658.1L199.5,657.2L205.2,656.6L205.7,656.4L206.2,655.9L208.8,651.5L209.3,651.0L212.4,649.9L212.9,649.4L216.0,643.3L216.5,642.8L219.1,641.5L219.6,641.0L220.7,638.8L222.2,634.1L223.2,632.0L226.9,629.9L231.0,629.3L232.0,628.7L235.1,624.0L238.7,621.1L241.8,615.5L242.4,615.0L245.5,613.8L246.5,612.1L249.1,605.8L249.6,604.8L250.6,603.9L257.3,603.3L260.9,605.1L265.1,607.9L266.1,608.1L268.2,607.8L269.2,607.0L271.8,603.6L272.8,603.1L275.9,602.6L276.4,602.2L278.0,599.6L279.0,598.3L281.6,597.8L282.1,597.9L282.6,598.6L284.7,604.1L285.2,604.9L285.7,605.2L288.3,605.1L288.8,604.6L289.4,603.6L290.9,599.9L291.4,599.2L291.9,598.8L294.5,598.3L295.0,597.7L297.1,593.0L297.6,592.3L298.1,591.9L301.2,591.6L301.8,591.2L302.3,590.4L303.8,585.9L304.9,584.1L308.5,583.4L309.0,583.5L310.5,584.7L311.0,584.8L311.6,584.6L314.1,580.8L315.2,579.9L325.0,575.3L330.2,573.1L334.8,570.3L340.0,566.6L343.6,565.1L344.1,564.8L344.6,563.9L346.7,558.3L347.2,557.5L347.7,557.3L350.3,557.1L350.8,557.3L351.3,558.3L351.9,560.1L353.4,566.9L353.9,568.1L354.4,568.5L360.1,568.2L364.8,567.3L370.4,566.6L371.0,566.3L371.5,565.7L374.1,560.0L374.6,559.3L375.1,559.0L377.7,558.7L378.2,558.7L378.7,559.3L380.8,565.6L381.3,566.6L381.8,567.0L384.4,567.0L384.9,566.1L385.4,564.2L387.0,556.0L387.5,554.3L388.0,553.4L393.7,552.3L399.4,550.5L400.4,550.7L403.0,552.4L403.5,552.5L404.0,552.4L407.6,549.1L425.7,544.5L439.1,540.1L443.8,537.4L449.5,536.7L450.5,536.8L453.1,537.7L453.6,537.5L454.1,537.0L456.7,533.3L457.7,532.7L460.3,532.4L461.3,532.5L465.5,534.3L470.1,535.4L472.7,535.7L473.2,535.6L473.7,534.8L474.3,533.4L475.8,527.9L476.3,526.9L476.8,526.5L479.9,526.1L481.0,524.8L482.5,521.7L483.0,521.1L483.6,520.8L487.7,520.2L492.9,518.6L493.4,518.3L494.4,517.0L497.0,512.8L498.0,512.1L501.6,511.7L502.2,512.2L502.7,513.3L505.3,523.2L505.8,524.1L508.4,524.5L508.9,524.5L509.4,523.9L512.0,516.2L512.5,515.2L513.0,514.8L517.1,514.1L521.3,512.4L524.4,512.2L525.4,512.6L528.0,514.9L529.0,515.3L533.1,514.9L534.2,514.5L536.8,513.2L537.3,512.1L537.8,510.2L539.3,502.2L539.9,500.4L540.4,499.6L543.0,499.2L543.5,499.3L544.0,499.6L547.1,502.6L548.1,502.8L552.8,502.3L572.4,498.4L579.6,495.9L585.3,493.3L586.3,491.9L587.9,487.9L588.4,486.8L588.9,486.3L592.0,486.0L592.5,486.4L593.1,487.7L594.6,494.4L595.1,496.2L595.6,497.2L596.2,497.4L598.7,497.4L599.3,497.1L599.8,496.3L601.8,492.4L602.4,492.0L606.5,490.7L607.0,490.3L607.5,489.6L609.6,485.3L610.1,484.8L610.6,484.6L612.7,484.3L613.2,484.4L613.7,484.9L615.3,487.7L616.3,489.1L624.0,491.0L624.6,490.8L625.1,490.1L628.2,482.6L628.7,481.9L629.2,481.6L633.3,481.3L635.9,483.2L637.0,483.3L642.6,482.3L646.8,480.6L650.4,478.3L651.4,477.9L669.0,475.6L670.0,475.6L675.2,477.6L680.3,479.0L680.9,479.0L681.4,478.7L685.0,475.3L689.6,472.7L690.7,472.4L695.8,471.9L696.9,470.7L699.5,465.9L700.5,464.4L703.1,461.8L704.1,461.2L704.6,461.1L706.7,460.8L707.2,460.9L708.2,462.1L710.8,466.3L711.9,467.1L714.4,467.8L715.0,468.2L718.6,473.3L719.1,473.7L721.7,473.7L722.2,473.5L722.7,472.9L724.8,468.4L725.8,466.9L729.9,465.0L735.1,463.6L739.2,462.2L742.8,460.4L743.9,459.4L745.4,456.4L746.5,455.0L749.0,454.4L750.1,454.5L753.2,457.0L753.7,457.2L754.2,457.0L758.3,453.3L759.4,453.1L763.5,453.8L766.6,457.1L767.6,457.8L770.7,457.5L774.3,455.8L775.4,455.6L780.0,456.3L784.7,457.8L785.7,457.7L789.8,456.4L795.0,457.9L803.3,457.4L804.3,456.8L808.4,453.2L812.6,451.0L817.2,447.7L823.4,446.2L827.5,443.7L830.6,442.2L836.8,440.6L837.9,440.0L842.5,436.2L848.2,433.9L852.9,432.7L853.4,432.8L853.9,433.2L855.4,435.9L856.5,436.9L864.2,437.0L865.3,437.3L867.3,438.5L868.4,438.7L873.0,438.3L873.5,437.8L874.0,436.9L876.6,430.1L877.1,429.4L877.6,429.1L881.3,428.4L882.3,428.9L884.4,431.4L884.9,431.8L885.4,431.9L888.0,431.4L889.0,430.8L891.1,428.9L892.1,428.3L897.3,427.5L901.9,426.3L903.0,425.5L905.5,422.4L906.6,421.4L909.7,419.6L913.3,418.2L914.3,418.5L916.9,419.8L921.0,422.9L921.6,422.9L926.2,422.1L929.8,423.0L933.9,422.4L939.6,420.8L944.8,418.8L949.4,417.7L950.5,418.5L953.1,421.9L953.6,422.4L954.1,422.6L956.7,422.9L957.2,422.7L957.7,422.2L960.8,416.8L961.8,416.0L963.9,415.3L964.4,415.0L965.5,412.9L967.0,408.5L967.5,407.8L968.0,407.6L970.1,407.9L971.1,408.3L974.8,411.2L977.3,412.5L978.4,414.6L980.4,421.3L980.9,422.4L981.5,422.9L982.0,422.9L984.0,422.6L984.6,422.2L985.6,419.9L988.2,412.4L988.7,411.5L989.2,411.1L992.8,410.2L994.4,410.3L1004.2,413.6L1005.2,414.3L1007.8,416.9L1008.8,417.4L1011.4,417.1L1012.5,416.7L1016.6,413.3L1020.2,410.6L1021.2,410.1L1025.4,410.0L1026.4,410.8L1028.5,413.9L1029.5,414.9L1032.6,414.6L1033.1,414.4L1033.6,413.7L1036.7,405.8L1037.8,403.8L1039.8,401.3L1044.0,399.0L1045.0,399.0L1053.3,401.2L1054.3,401.0L1058.9,399.1L1060.5,398.9L1064.6,399.6L1069.3,402.3L1070.3,402.4L1076.5,401.1L1082.2,398.8L1086.8,396.5L1087.9,396.5L1091.5,397.4L1092.0,397.3L1093.0,396.3L1096.6,391.5L1097.2,391.2L1100.8,390.6L1103.9,391.5L1104.9,392.0L1110.6,398.7L1111.6,399.3L1117.3,399.8L1122.0,399.3L1123.0,398.2L1126.1,392.4L1129.7,386.5L1130.7,385.7L1133.3,384.5L1134.3,384.7L1137.4,386.2L1141.1,389.7L1146.2,393.7L1150.9,397.5L1151.9,397.8L1155.5,397.8L1156.6,397.5L1160.7,395.0L1166.4,389.3L1170.0,387.6L1173.6,384.9L1177.2,383.6L1180.8,381.3L1181.9,381.0L1186.5,380.3L1190.6,379.9L1191.2,380.4L1191.7,381.3L1194.3,387.3L1194.8,387.8L1197.9,387.8L1198.9,387.5L1202.5,384.7L1207.2,382.4L1217.0,380.0L1218.0,380.2L1220.6,381.6L1221.6,381.9L1225.8,382.3L1229.4,381.2L1229.9,381.3L1233.5,383.4L1234.0,383.5L1236.6,383.0L1237.6,382.3L1242.3,376.3L1242.8,376.0L1246.9,375.4L1250.6,374.5L1251.1,374.7L1251.6,375.3L1253.1,377.9L1253.7,378.4L1254.2,378.6L1257.8,379.0L1258.3,378.6L1258.8,377.6L1261.4,367.7L1261.9,366.5L1262.4,366.0L1265.0,365.5L1265.5,365.5L1266.6,366.2L1269.2,370.2L1270.2,371.0L1274.3,370.6L1274.8,370.2L1276.4,368.0L1276.9,367.6L1277.4,367.4L1279.5,367.7L1280.0,368.0L1280.5,368.6L1283.1,373.9L1283.6,374.6L1284.1,374.9L1286.7,375.3L1287.7,375.0L1292.4,372.4L1299.1,371.2L1299.6,370.9L1300.1,370.2L1303.2,364.2L1304.3,363.4L1307.9,362.5L1308.4,362.8L1308.9,363.8L1310.5,368.3L1311.0,369.4L1311.5,369.9L1314.1,370.3L1314.6,370.1L1315.1,369.7L1317.7,366.0L1318.7,364.8L1323.4,362.8L1326.0,360.1L1326.5,360.0L1329.1,360.5L1329.6,360.9L1330.1,361.7L1331.7,365.8L1332.2,366.8L1332.7,367.3L1337.3,367.8L1343.0,367.3L1343.5,366.7L1344.0,365.6L1345.6,361.1L1346.1,360.2L1346.6,359.8L1349.2,359.4L1350.2,360.0L1353.3,363.3L1353.9,363.6L1356.4,364.2L1357.0,364.5L1357.5,365.3L1359.5,370.4L1360.1,371.0L1362.6,371.7L1363.7,371.7L1369.9,369.3L1375.6,367.4L1376.6,365.9L1380.7,356.8L1381.2,356.1L1381.8,355.8L1384.3,354.9L1385.4,353.1L1386.9,349.5L1387.4,348.8L1388.0,348.5L1392.1,347.9L1397.8,347.4L1398.8,347.0L1400.3,345.4L1401.4,344.8L1404.5,344.5L1405.0,344.7L1405.5,345.5L1408.1,352.5L1408.6,353.3L1409.1,353.5L1411.2,353.1L1411.7,352.4L1414.3,344.3L1414.8,343.3L1415.3,342.8L1418.9,342.4L1423.6,343.6L1429.3,344.1"/>
<path stroke="#ffff3c" d="M118.7,744.5L167.7,748.6L168.2,746.3L168.8,741.7L170.8,714.9L171.3,711.9L171.9,711.7L184.8,748.3L185.3,749.3L185.8,749.8L198.7,748.3L211.6,747.4L218.3,746.5L219.4,746.2L223.5,744.2L224.0,744.1L224.5,744.2L228.2,746.0L229.2,746.2L235.9,742.7L236.4,742.6L236.9,742.8L242.1,746.5L242.6,746.2L243.1,745.1L244.7,739.7L245.2,738.5L245.7,737.8L249.3,735.3L249.9,735.2L250.4,735.3L250.9,735.8L257.1,742.3L257.6,742.4L258.1,742.0L261.7,737.1L262.3,736.7L262.8,736.6L263.3,737.0L269.5,743.8L270.0,743.5L270.5,742.5L272.6,735.2L273.1,734.2L273.6,733.8L281.9,736.6L282.4,736.0L282.9,734.4L285.0,723.4L285.5,721.6L286.0,721.4L287.6,727.7L288.1,729.1L288.6,729.6L293.2,727.5L293.8,726.6L294.3,725.1L295.8,719.1L296.3,717.9L296.9,717.3L297.9,717.3L298.4,717.1L298.9,716.1L300.5,710.3L301.0,709.1L301.5,709.4L303.1,716.2L303.6,717.7L304.1,718.0L307.2,710.8L307.7,710.1L308.2,709.9L313.4,710.6L314.4,711.2L318.6,714.6L319.6,714.7L321.6,714.5L322.2,713.7L322.7,711.4L323.7,703.1L324.2,700.1L324.7,698.6L328.9,698.6L329.4,699.8L329.9,702.2L330.9,709.3L331.5,711.2L332.0,711.8L335.1,711.8L335.6,711.2L336.1,709.7L337.7,702.8L338.2,701.4L338.7,700.8L342.8,699.0L348.0,695.3L349.0,694.3L351.1,691.2L352.1,690.2L360.4,687.1L360.9,686.8L361.9,685.2L365.0,678.7L366.1,677.6L372.3,675.0L376.4,674.8L376.9,675.5L377.4,676.7L378.5,680.4L379.0,681.8L379.5,682.6L380.0,682.8L383.6,682.8L384.1,682.5L384.7,681.5L386.2,676.6L386.7,675.9L389.8,675.0L390.3,673.5L390.9,670.6L392.4,656.8L392.9,653.8L393.4,652.3L397.1,651.7L397.6,652.1L398.1,653.9L399.6,664.0L400.2,665.9L400.7,666.6L404.3,666.6L404.8,665.9L405.3,664.3L406.4,659.3L406.9,657.5L407.4,656.5L412.0,654.9L414.6,652.7L415.1,652.5L417.2,652.7L417.7,653.2L418.2,654.3L419.8,659.7L420.3,661.0L420.8,661.7L424.9,661.8L431.7,660.0L432.2,659.6L432.7,658.6L434.2,653.8L435.3,651.7L437.9,650.2L438.9,648.9L441.5,642.2L442.0,641.4L442.5,640.9L445.6,640.0L446.1,639.5L448.2,635.3L448.7,634.6L449.2,634.3L452.3,634.3L452.8,635.5L453.4,638.0L454.9,648.9L455.4,651.3L455.9,652.3L459.0,652.3L459.6,652.1L460.1,651.2L461.6,646.1L462.7,643.7L463.2,643.3L465.8,642.4L466.3,641.8L468.9,637.0L469.4,636.4L469.9,636.1L473.0,636.1L474.0,636.6L476.1,638.9L476.6,639.0L479.7,638.7L480.7,637.9L482.8,635.1L483.3,634.8L485.9,634.3L490.0,630.6L495.7,628.0L496.7,627.8L500.9,627.9L502.9,629.0L504.0,629.2L506.6,628.7L507.1,628.3L507.6,627.3L510.2,618.3L510.7,617.5L511.2,617.2L514.8,616.9L519.0,618.6L527.2,619.4L535.0,621.9L538.6,622.8L547.9,622.4L548.9,621.7L551.5,618.1L552.0,617.8L555.6,617.3L556.1,616.9L558.2,613.1L558.7,612.5L559.2,612.2L561.8,611.8L562.3,611.2L562.9,610.1L564.9,604.3L565.4,603.4L566.0,603.0L569.6,602.9L573.7,604.0L576.8,603.6L577.8,602.9L579.4,601.1L580.4,600.6L583.0,600.6L583.5,600.7L586.1,602.7L586.6,602.8L590.2,602.4L590.7,602.2L591.3,601.6L593.3,597.2L593.8,596.7L594.4,596.6L596.9,596.7L597.5,597.1L599.0,599.4L600.0,600.5L603.7,600.6L604.2,600.0L604.7,598.7L606.2,592.6L606.8,591.2L607.3,590.5L610.4,589.9L611.4,590.2L613.5,591.7L617.1,591.9L621.2,594.8L630.5,594.8L631.5,594.5L635.7,592.0L638.8,591.1L639.3,590.0L639.8,588.0L641.4,580.2L641.9,578.7L642.4,578.1L647.0,578.2L649.6,579.7L652.2,579.8L653.2,580.5L654.8,582.3L655.8,582.8L658.9,582.4L659.4,582.2L660.0,581.5L662.0,576.8L662.5,576.2L663.1,576.1L665.1,576.1L665.6,576.3L666.2,577.2L667.7,582.6L668.2,584.1L668.7,585.0L669.3,585.3L671.8,585.3L672.4,585.1L672.9,584.4L674.9,578.4L675.5,577.6L676.0,577.3L685.3,576.9L685.8,577.1L686.3,577.7L688.4,581.9L689.4,583.5L689.9,583.8L690.4,583.9L693.0,583.5L693.5,583.2L694.0,582.5L695.6,579.0L696.6,577.7L705.9,576.9L709.5,574.0L713.2,573.5L713.7,572.3L714.2,569.9L715.7,559.6L716.3,557.4L716.8,556.4L720.4,556.4L720.9,556.7L721.4,557.5L723.5,563.1L724.0,563.7L724.5,563.9L733.3,563.3L734.3,563.7L737.4,565.8L740.5,565.9L741.0,565.3L741.6,563.9L743.1,557.1L743.6,555.5L744.1,554.7L747.8,554.7L748.3,554.8L748.8,555.5L749.3,556.6L750.9,560.9L751.4,561.7L751.9,562.1L754.5,562.7L755.0,563.4L757.6,570.8L758.1,571.7L758.6,572.1L761.2,572.6L768.4,571.2L768.9,570.9L769.5,569.4L770.0,566.7L771.5,556.1L772.0,554.0L772.6,553.1L775.7,552.8L776.7,553.4L778.2,555.4L778.8,555.8L779.3,555.9L782.4,555.9L782.9,555.3L783.4,554.0L784.9,548.6L785.5,547.4L786.0,546.9L789.1,546.5L789.6,546.9L790.1,548.2L792.2,557.5L792.7,558.6L793.2,558.9L796.3,558.9L796.8,558.1L797.3,556.4L798.9,548.4L799.4,546.7L799.9,545.8L803.0,545.3L804.1,545.6L806.6,547.6L807.7,548.2L811.3,548.6L814.9,550.2L818.5,550.7L822.1,552.1L824.2,552.6L825.2,553.6L827.3,557.3L827.8,557.7L830.4,557.7L830.9,557.3L831.4,556.2L833.0,550.5L833.5,549.0L834.0,548.2L837.1,547.4L837.6,547.1L838.1,546.4L839.7,543.5L840.7,542.2L845.9,541.5L850.5,540.3L851.1,540.9L851.6,542.1L853.6,549.7L854.2,550.9L854.7,551.4L857.8,551.4L858.3,550.7L858.8,548.5L860.9,532.0L861.4,529.9L861.9,529.3L864.0,529.1L865.0,529.2L868.6,531.3L872.2,531.5L875.9,533.7L876.9,533.9L878.4,533.9L879.0,533.7L879.5,532.7L881.5,524.7L882.1,523.5L882.6,523.1L885.7,522.9L886.2,523.5L886.7,524.5L888.2,528.7L888.8,529.5L889.3,529.8L892.4,530.3L892.9,531.0L895.0,537.0L895.5,537.9L896.0,538.2L899.1,538.2L899.6,537.6L900.1,536.0L901.7,528.0L902.2,525.9L902.7,524.8L903.2,524.5L906.3,524.0L907.4,523.2L908.9,521.4L909.9,520.9L913.0,521.0L913.6,521.3L916.7,526.5L917.2,526.9L917.7,526.9L919.8,526.9L923.9,525.2L926.5,525.2L927.5,525.0L931.1,523.3L933.7,523.2L934.2,522.9L934.7,522.2L936.3,519.2L936.8,518.5L937.3,518.1L940.4,517.8L940.9,517.2L941.4,515.9L943.0,510.1L943.5,508.8L944.0,508.1L947.1,507.8L947.6,507.9L948.2,508.2L950.2,510.6L951.3,511.3L953.8,511.4L954.4,511.3L954.9,510.5L955.4,509.2L956.9,504.0L957.5,503.0L958.0,502.6L962.1,502.2L964.7,501.5L967.8,501.8L968.3,502.5L968.8,504.1L970.4,512.3L970.9,514.4L971.4,515.5L971.9,515.7L974.5,515.7L975.0,515.6L975.5,514.3L977.6,502.4L978.1,500.5L978.6,499.7L982.3,499.5L982.8,500.5L983.3,502.4L984.8,510.4L985.4,512.0L985.9,512.7L989.0,512.7L990.0,512.3L991.5,510.5L992.6,509.7L995.2,509.5L996.2,509.7L999.3,511.8L1002.4,511.9L1003.4,511.0L1006.0,507.9L1006.5,507.6L1009.6,507.1L1012.7,504.6L1015.8,504.0L1016.3,503.8L1016.9,502.9L1017.4,501.4L1018.9,496.0L1019.4,495.0L1020.0,494.7L1023.6,494.5L1024.1,495.3L1024.6,497.2L1026.2,506.4L1026.7,508.6L1027.2,509.7L1027.7,509.7L1037.0,509.6L1041.1,508.2L1044.7,508.1L1047.8,506.7L1048.9,506.5L1057.7,506.9L1058.2,506.7L1058.7,505.9L1061.3,499.2L1061.8,498.5L1062.3,498.4L1064.9,498.3L1065.9,499.1L1068.0,501.6L1069.0,502.2L1077.8,502.0L1078.8,501.6L1080.9,500.0L1081.9,499.5L1085.0,499.4L1085.6,499.6L1086.1,500.0L1088.1,504.0L1088.7,504.5L1089.2,504.7L1091.8,504.7L1092.3,504.5L1092.8,503.7L1094.8,496.6L1095.4,495.5L1095.9,495.1L1099.0,494.8L1100.0,495.3L1102.1,498.2L1102.6,498.7L1103.6,499.3L1108.8,500.9L1114.5,500.3L1115.0,500.8L1115.5,501.8L1117.1,506.0L1118.1,507.8L1118.6,508.0L1122.7,508.1L1123.8,509.3L1124.8,511.4L1125.3,512.0L1125.8,512.2L1126.9,512.0L1127.4,510.3L1128.9,498.4L1129.5,495.7L1130.0,494.4L1133.6,494.0L1134.1,494.4L1134.6,495.5L1136.2,501.9L1136.7,503.3L1137.2,503.9L1140.3,503.9L1140.8,503.4L1141.3,501.8L1143.4,489.7L1143.9,488.1L1144.4,487.6L1148.6,487.3L1151.1,488.1L1154.8,488.2L1155.3,488.4L1157.9,490.8L1161.0,491.5L1164.6,494.6L1168.2,495.2L1169.2,495.7L1171.8,497.6L1175.9,498.2L1179.0,500.0L1180.1,500.1L1182.1,499.8L1182.7,498.3L1183.2,494.6L1184.7,477.5L1185.2,474.8L1185.8,474.3L1188.9,474.0L1189.4,474.2L1189.9,476.0L1190.4,479.4L1191.4,488.7L1192.0,491.5L1192.5,492.7L1195.6,492.7L1196.1,491.7L1196.6,489.8L1197.6,484.4L1198.1,482.7L1198.7,481.9L1202.3,481.5L1202.8,481.9L1203.3,482.8L1204.9,486.9L1205.4,487.8L1205.9,488.4L1209.5,489.5L1210.5,490.9L1212.1,493.8L1212.6,494.3L1213.1,494.4L1216.2,494.4L1216.7,494.1L1217.3,493.2L1218.8,489.4L1219.3,488.6L1219.8,488.1L1222.9,487.8L1223.5,487.3L1224.0,486.4L1226.0,481.2L1226.6,480.6L1229.7,480.3L1230.2,480.0L1230.7,479.6L1233.3,476.2L1233.8,475.8L1236.9,475.3L1237.9,475.7L1241.0,478.1L1244.6,478.5L1247.7,479.7L1250.3,479.7L1250.8,479.4L1251.3,478.5L1252.9,473.9L1253.4,472.7L1253.9,472.0L1257.0,471.5L1257.5,471.3L1258.1,470.7L1259.6,467.8L1260.6,466.5L1264.3,466.0L1264.8,466.3L1265.3,467.0L1266.8,470.0L1267.9,471.1L1272.0,472.0L1272.5,472.4L1274.1,474.3L1275.1,475.1L1277.7,475.2L1278.2,474.9L1278.7,473.8L1280.3,467.6L1280.8,465.8L1281.3,464.7L1281.8,464.3L1284.4,464.0L1284.9,463.8L1286.0,462.0L1287.5,458.1L1288.0,457.4L1288.5,457.1L1292.2,457.0L1292.7,457.4L1293.2,458.2L1294.7,462.5L1295.3,463.5L1295.8,463.9L1298.9,463.9L1299.4,463.8L1299.9,463.1L1302.0,457.5L1302.5,456.7L1303.0,456.4L1307.1,455.9L1310.7,455.2L1312.8,455.2L1313.3,455.8L1313.8,457.5L1315.9,467.7L1316.4,468.8L1316.9,468.9L1319.5,468.9L1322.6,467.8L1326.8,467.2L1327.8,465.9L1329.3,462.4L1329.9,461.7L1330.4,461.4L1340.2,461.0L1340.7,460.7L1341.2,459.8L1342.8,455.4L1343.3,454.6L1343.8,454.3L1346.9,454.0L1347.4,454.2L1347.9,454.9L1349.5,459.3L1350.5,461.3L1351.0,461.5L1354.1,462.1L1356.7,464.6L1357.7,465.2L1368.1,465.1L1369.1,464.2L1370.7,462.0L1371.2,461.5L1374.8,460.9L1377.9,459.7L1382.0,458.9L1385.1,457.7L1388.2,457.7L1388.7,458.0L1389.3,458.7L1390.8,462.4L1391.8,463.9L1396.0,464.5L1399.1,465.2L1409.4,465.6L1410.4,464.7L1413.0,461.3L1414.0,460.6L1416.6,460.3L1419.7,461.1L1423.3,461.2"/>
<path stroke="#ff3ccc" d="M68.8,741.1L70.9,741.1L71.4,740.4L71.9,738.9L73.4,732.4L75.5,725.2L76.5,719.2L78.1,708.1L78.6,705.9L79.1,704.8L81.2,704.3L81.7,703.6L82.2,701.3L84.3,684.7L84.8,682.1L85.3,680.9L87.9,679.6L90.0,678.3L90.5,676.9L91.0,673.2L92.0,661.7L92.6,658.9L95.1,657.5L97.2,656.8L97.7,656.3L98.8,654.3L99.3,652.7L100.3,646.6L101.9,634.5L102.4,632.0L102.9,630.9L105.0,630.5L105.5,632.0L107.0,642.1L107.5,642.3L109.1,634.6L109.6,633.1L110.1,632.6L112.7,631.9L116.3,630.5L116.8,630.2L117.4,629.5L119.9,622.7L122.0,615.8L122.5,614.9L124.6,613.8L125.1,614.4L125.6,614.7L126.1,614.7L133.4,596.7L133.9,596.0L135.9,595.4L136.5,594.9L137.0,593.4L138.5,584.8L139.0,583.6L143.2,582.3L143.7,581.4L144.2,579.4L145.8,570.0L146.3,568.2L146.8,567.6L154.0,563.1L155.1,563.1L159.2,564.4L159.7,562.7L160.2,556.9L161.3,536.6L161.8,529.9L162.3,527.2L167.5,526.5L168.0,527.9L168.5,530.8L169.5,538.8L170.0,541.3L170.6,542.4L174.2,542.6L174.7,542.4L175.2,541.6L176.7,538.2L177.3,537.6L177.8,537.4L180.4,537.4L180.9,539.0L181.4,542.4L182.4,552.9L182.9,556.5L183.5,558.3L187.1,558.6L187.6,558.5L188.1,557.9L189.7,554.2L190.2,553.5L190.7,553.2L194.8,552.5L195.3,551.4L195.9,548.6L197.4,534.3L197.9,531.0L198.4,529.3L201.0,528.6L201.5,528.2L202.1,527.2L203.6,521.5L204.1,520.3L204.6,519.7L209.3,516.3L209.8,515.6L210.8,512.2L212.9,503.5L213.9,500.4L214.5,499.8L217.6,498.7L218.1,497.6L218.6,495.4L220.1,484.9L220.7,483.0L221.2,482.3L223.8,481.3L224.3,480.7L224.8,479.7L226.9,473.0L227.4,471.9L227.9,471.3L228.9,471.2L229.4,473.3L229.9,477.3L232.0,500.9L232.5,505.6L233.0,508.3L233.6,509.0L236.7,509.6L237.2,513.1L238.7,536.3L239.2,538.5L241.3,538.4L241.8,536.4L242.3,532.5L244.9,504.5L245.4,500.4L246.0,498.2L246.5,497.8L250.6,496.8L251.1,496.3L251.6,495.3L252.7,492.3L253.2,491.4L253.7,491.1L257.8,491.1L258.4,492.0L259.9,507.0L260.4,508.2L263.0,508.4L263.5,509.2L264.0,511.0L265.6,519.8L266.1,521.3L266.6,521.7L269.7,522.3L270.2,523.2L270.8,525.1L272.3,533.2L272.8,534.7L273.3,535.2L276.4,535.6L277.0,535.1L277.5,532.6L279.5,509.8L280.0,505.1L280.6,502.3L281.1,501.6L283.1,501.3L283.7,501.6L284.2,502.5L285.7,506.5L286.2,507.2L286.8,507.5L290.9,507.7L291.4,507.1L291.9,506.0L292.4,499.9L293.5,476.1L294.0,469.4L297.1,469.2L297.6,469.6L298.1,470.7L300.2,478.6L300.7,479.8L301.2,480.3L303.3,480.8L303.8,481.2L304.3,481.9L306.4,486.3L306.9,486.9L307.4,487.2L312.1,487.9L318.3,486.9L318.8,484.8L319.3,478.4L320.9,444.4L321.4,438.3L321.9,436.6L325.5,435.9L326.5,436.5L327.6,437.6L328.1,437.9L331.7,438.3L332.2,437.2L332.7,435.2L334.3,426.7L334.8,424.8L335.3,423.8L339.4,423.6L340.0,424.0L340.5,424.9L342.0,429.3L342.5,430.0L343.1,430.2L346.7,430.2L348.7,429.4L349.8,429.3L359.6,428.8L360.1,429.2L360.6,430.4L362.7,438.7L363.2,439.9L363.7,440.4L367.3,441.0L369.4,440.2L373.5,439.9L374.1,439.3L374.6,436.9L376.1,421.6L376.6,417.8L377.2,415.7L377.7,415.5L380.8,415.3L381.3,416.0L381.8,417.7L383.3,426.3L383.9,428.1L384.4,428.8L387.0,429.1L387.5,428.9L388.0,425.8L388.5,419.8L390.1,395.8L390.6,391.9L391.1,390.8L394.2,390.5L394.7,390.7L395.2,391.5L396.8,395.7L397.3,396.3L400.9,396.8L401.4,397.7L401.9,399.1L404.0,407.0L404.5,408.2L405.0,408.6L408.1,409.0L408.7,408.8L409.2,408.3L410.2,406.8L410.7,406.4L411.2,406.2L414.9,405.9L415.4,409.2L415.9,416.1L418.0,458.9L418.5,465.7L419.0,468.9L422.1,468.9L422.6,466.7L423.1,460.6L424.7,429.4L425.2,423.6L425.7,421.6L428.3,421.0L428.8,420.7L429.3,419.9L431.4,415.5L431.9,414.8L432.4,414.6L435.5,414.2L436.0,411.3L436.5,405.8L438.1,381.3L438.6,375.6L439.1,372.7L439.6,372.4L442.7,372.2L443.3,373.6L443.8,378.9L445.3,410.5L445.8,417.2L446.4,420.0L448.9,420.3L449.5,421.3L450.0,423.4L452.0,437.7L452.6,440.6L453.1,442.2L453.6,442.6L455.7,442.6L456.2,441.7L456.7,434.4L457.2,420.6L458.8,367.6L459.3,359.3L459.8,357.4L463.4,357.0L463.9,359.6L464.4,367.6L465.5,396.8L466.0,407.1L466.5,412.1L469.1,412.1L469.6,411.1L470.1,406.2L471.7,377.0L472.2,372.3L472.7,371.5L476.8,371.3L477.4,375.3L477.9,383.7L479.4,421.6L479.9,429.1L480.5,432.6L482.5,438.3L483.6,440.2L485.1,440.9L485.6,439.9L486.1,436.8L487.7,421.7L488.2,419.8L490.3,419.3L490.8,418.7L491.3,416.3L493.4,397.2L493.9,394.0L494.4,392.6L497.5,392.0L498.0,390.5L498.5,387.2L500.1,371.1L500.6,368.3L501.1,367.5L504.2,367.2L504.7,367.6L505.2,375.9L506.8,434.5L507.3,445.3L507.8,448.2L510.9,448.4L511.4,447.6L512.0,437.8L513.5,365.0L514.0,347.1L514.5,338.1L525.4,337.6L525.9,341.0L526.4,348.4L527.5,372.0L528.0,381.2L528.5,386.4L529.0,387.5L531.6,387.7L532.1,387.4L532.6,385.7L534.2,375.3L534.7,373.6L535.2,373.3L538.8,373.0L539.3,373.7L539.8,375.6L541.4,385.9L541.9,388.2L542.4,389.2L546.0,389.6L546.6,391.5L547.1,395.1L548.6,412.0L549.1,416.1L549.7,418.2L550.2,418.5L552.2,418.3L552.8,416.9L553.3,411.2L554.8,375.9L555.3,367.0L555.9,362.3L556.4,361.8L559.5,361.6L560.5,362.0L562.6,363.5L563.6,363.9L568.3,363.3L572.9,362.4L573.4,362.3L573.9,361.6L575.5,357.3L576.0,356.2L576.5,355.7L580.1,355.3L580.7,354.1L581.2,350.5L582.7,331.1L583.2,327.3L583.8,325.8L587.4,325.5L587.9,325.7L588.4,327.4L588.9,330.5L590.5,342.4L591.0,344.3L591.5,344.8L594.1,345.1L594.6,346.3L595.1,348.8L596.7,360.1L597.2,362.5L597.7,363.7L600.8,363.9L601.3,363.7L601.8,362.5L602.3,360.2L603.4,354.4L603.9,352.5L604.4,351.6L607.5,351.1L608.0,350.8L608.5,350.0L610.6,345.4L611.1,344.8L611.6,344.5L614.7,344.0L615.3,343.8L617.3,341.7L618.4,341.1L620.9,340.8L621.5,341.2L622.0,342.6L622.5,345.1L624.0,354.3L624.6,356.4L625.1,357.5L628.7,357.8L629.2,356.1L629.7,352.0L631.3,332.3L631.8,328.3L632.3,326.6L636.4,326.4L642.6,327.5L643.7,327.8L646.2,329.8L648.8,329.9L649.3,329.6L649.9,328.9L651.4,325.0L651.9,324.3L652.4,324.0L656.1,323.7L656.6,324.4L657.1,325.9L658.6,333.0L659.2,334.7L659.7,335.7L660.2,336.0L662.8,336.3L663.3,336.6L663.8,338.0L664.3,340.5L665.9,350.2L666.4,352.2L666.9,353.1L670.5,353.3L672.6,352.3L675.7,351.8L676.2,351.1L676.7,349.7L678.3,343.0L678.8,341.7L679.3,341.1L682.4,340.8L683.4,341.0L686.5,342.2L689.6,343.7L690.7,343.9L695.3,343.9L700.0,342.8L702.5,343.0L703.6,343.6L706.7,347.2L707.2,347.4L710.3,347.5L710.8,347.3L711.3,346.5L713.4,340.8L713.9,339.9L714.4,339.5L718.0,339.3L718.6,339.6L721.1,341.7L722.2,342.0L724.8,341.4L725.3,341.0L727.3,337.8L728.4,336.9L731.5,336.6L732.0,337.0L732.5,338.3L734.6,348.1L735.1,349.6L735.6,350.2L737.7,350.4L738.2,350.1L738.7,349.4L740.8,343.8L741.3,343.0L741.8,342.6L745.9,342.2L751.6,342.2L757.3,342.7L758.3,343.0L761.9,344.7L765.0,344.8L766.1,344.4L767.6,342.9L768.7,342.2L772.3,341.9L773.3,342.8L775.4,346.3L775.9,346.6L778.5,346.8L779.0,346.2L779.5,345.2L781.1,340.6L781.6,339.6L782.1,339.1L785.2,338.8L785.7,339.0L786.2,339.7L788.8,346.8L791.4,350.8L791.9,351.0L792.4,350.2L794.0,344.4L794.5,343.3L795.0,342.8L796.0,342.4L797.1,342.2L804.8,343.0L805.8,342.5L807.4,341.0L808.4,340.3L816.7,337.8L820.3,337.5L820.8,337.6L821.3,338.1L823.4,342.1L823.9,342.8L824.4,343.1L829.1,343.0L835.8,341.3L836.8,340.6L839.4,338.1L839.9,337.8L842.0,337.4L842.5,336.9L845.1,333.5L848.2,332.4L848.7,331.8L850.8,328.0L851.3,327.4L851.8,327.1L854.9,326.5L855.9,326.7L860.1,329.8L863.2,330.8L863.7,331.3L865.8,334.5L866.3,335.0L866.8,335.2L869.9,335.6L870.9,335.1L872.5,333.2L873.5,332.3L876.1,331.0L877.1,329.3L878.7,325.0L879.2,323.9L879.7,323.4L885.4,322.9L896.2,324.0L896.8,324.5L897.3,325.6L898.8,331.0L899.3,332.4L899.8,333.2L900.4,333.5L903.5,333.8L904.0,333.5L904.5,332.8L906.6,329.0L910.2,323.3L914.8,312.4L915.3,312.0L915.9,311.9L918.4,312.6L922.1,314.3L924.1,314.4L924.6,313.7L925.2,312.4L926.2,308.6L926.7,307.6L927.2,307.3L930.8,307.0L931.4,307.2L931.9,308.2L933.4,313.6L933.9,314.4L936.5,315.2L937.0,315.5L939.6,319.5L942.2,322.1L942.7,322.3L945.3,322.7L946.3,322.0L947.9,319.6L948.9,318.7L958.7,317.0L963.4,315.5L964.9,314.6L967.5,312.1L968.5,311.6L972.2,310.9L976.8,312.5L980.9,312.2L984.6,310.8L988.2,308.3L992.3,307.4L997.0,308.3L999.5,309.5L1000.1,310.0L1000.6,310.8L1002.6,316.6L1003.1,317.6L1003.7,318.1L1005.7,318.6L1006.2,318.3L1006.8,317.0L1008.8,306.8L1009.3,305.2L1009.9,304.5L1013.0,303.9L1013.5,304.1L1014.0,304.7L1015.5,307.7L1016.6,309.1L1019.7,309.8L1020.7,309.8L1023.8,307.6L1024.8,307.2L1029.5,306.5L1034.1,306.4L1034.7,305.8L1035.2,304.4L1036.2,300.2L1036.7,298.6L1037.2,297.7L1040.9,296.9L1041.4,297.0L1041.9,297.6L1044.0,303.3L1044.5,304.3L1045.0,304.8L1049.1,305.5L1058.9,304.7L1063.1,303.2L1064.1,301.9L1065.6,298.7L1066.2,298.3L1069.8,296.7L1072.4,293.6L1073.4,293.2L1076.5,293.0L1077.5,293.7L1079.1,296.0L1080.1,296.8L1084.8,297.6L1091.5,297.6L1105.9,295.0L1107.0,295.3L1111.1,296.9L1115.2,296.9L1115.7,296.8L1116.3,296.2L1118.8,289.0L1119.4,287.9L1119.9,287.4L1136.9,285.5L1138.0,284.8L1140.5,281.8L1141.6,281.1L1150.4,278.9L1150.9,278.5L1151.4,277.6L1152.9,273.2L1154.0,271.3L1158.6,270.1L1159.1,270.8L1159.6,272.7L1161.2,281.5L1161.7,282.6L1164.8,283.5L1165.3,283.3L1165.8,282.7L1167.4,279.6L1168.4,278.6L1173.1,278.0L1174.1,277.2L1175.7,275.1L1176.2,274.6L1176.7,274.4L1179.8,274.2L1180.3,274.7L1180.8,275.6L1182.4,279.9L1182.9,280.8L1183.4,281.4L1186.5,282.2L1187.0,282.2L1187.5,281.8L1189.6,278.1L1190.1,277.5L1194.3,276.3L1199.4,276.9L1203.0,278.7L1207.2,279.4L1211.3,280.5L1214.9,280.6L1218.5,279.3L1221.1,279.8L1221.6,280.3L1222.1,281.2L1224.2,287.2L1224.7,287.9L1226.8,288.1L1227.3,288.1L1227.8,287.3L1228.3,285.6L1229.9,278.3L1230.4,276.8L1230.9,276.1L1234.5,275.8L1235.6,276.5L1238.7,279.4L1243.3,280.0L1246.9,281.4L1247.5,281.2L1248.0,280.7L1250.0,277.9L1251.1,277.3L1255.7,276.3L1261.9,275.4L1262.4,274.9L1264.5,270.7L1265.0,270.1L1265.5,269.8L1270.2,268.7L1275.3,268.7L1275.9,268.9L1276.4,269.2L1277.9,271.0L1279.0,271.7L1284.6,271.2L1290.8,270.0L1296.5,269.3L1297.6,269.5L1300.7,271.4L1301.2,271.3L1301.7,271.0L1303.8,268.8L1304.8,268.1L1310.0,267.5L1314.6,267.5L1317.7,268.9L1318.2,269.4L1318.7,270.7L1320.8,279.3L1321.3,280.3L1321.8,280.5L1323.9,280.1L1324.4,279.4L1324.9,277.3L1326.5,265.4L1327.0,263.2L1327.5,262.4L1330.6,262.1L1331.6,263.3L1333.2,266.3L1333.7,266.8L1334.2,267.1L1336.8,267.4L1337.3,267.1L1337.8,265.8L1338.4,263.3L1339.9,253.7L1340.4,251.9L1340.9,251.1L1345.1,250.6L1345.6,250.9L1346.1,252.3L1346.6,255.0L1348.2,265.0L1348.7,266.9L1349.2,267.6L1351.3,267.8L1351.8,267.4L1352.3,266.6L1354.4,261.9L1355.4,260.2L1355.9,259.8L1358.5,259.4L1359.0,258.8L1359.5,257.6L1361.6,249.7L1362.1,248.8L1362.6,248.6L1366.2,248.1L1366.8,248.5L1367.3,249.2L1368.8,252.2L1369.3,252.8L1369.9,253.0L1373.5,253.1L1376.6,251.6L1377.6,251.3L1381.7,251.9L1382.8,252.6L1384.3,254.1L1385.4,254.9L1387.9,254.9L1388.5,253.7L1390.0,244.9L1390.5,243.3L1391.0,242.9L1394.1,242.6L1394.7,243.1L1395.2,244.1L1396.7,249.0L1397.2,250.1L1397.8,250.6L1400.3,251.1L1400.9,251.4L1402.9,253.6L1404.0,254.3L1413.3,254.5L1413.8,254.2L1414.3,253.0L1416.3,241.8L1416.9,240.1L1417.4,239.4L1422.5,239.0L1429.3,238.8"/>
</g>
<g class="t12">
<text x="67" y="753" text-anchor="end">0</text>
<text x="67" y="666" text-anchor="end">5</text>
<text x="67" y="579" text-anchor="end">10</text>
<text x="67" y="492" text-anchor="end">15</text>
<text x="67" y="405" text-anchor="end">20</text>
<text x="67" y="318" text-anchor="end">25</text>
<text x="67" y="230" text-anchor="end">30</text>
<text x="67" y="143" text-anchor="end">35</text>
<text x="67" y="56" text-anchor="end">40</text>
<text x="257.9" y="801" text-anchor="middle">5</text>
<text x="464.5" y="801" text-anchor="middle">10</text>
<text x="671.1" y="801" text-anchor="middle">15</text>
<text x="877.7" y="801" text-anchor="middle">20</text>
<text x="1084.3" y="801" text-anchor="middle">25</text>
<text x="1290.9" y="801" text-anchor="middle">30</text>
</g>
<text class="t14" x="748" y="840" text-anchor="middle">timestamp [min/10]</text>
<text class="t14" transform="translate(30,399) rotate(-90)" text-anchor="middle">mass [g]</text>
<g class="t12">
<line x1="1460" x2="1490" y1="23.5" y2="23.5" stroke="#2424c8" stroke-width="2"/>
<text x="1495.5" y="27.7">mass (27.57mL 34IPAM 16:40:44) réservoir bas</text>
<line x1="1460" x2="1490" y1="42.5" y2="42.5" stroke="#2436bc" stroke-width="2"/>
<text x="1495.5" y="46.7">mass (25.92mL 34IPAM 16:46:37) réservoir bas</text>
<line x1="1460" x2="1490" y1="61.5" y2="61.5" stroke="#2444b4" stroke-width="2"/>
<text x="1495.5" y="65.7">mass (24.23mL 36IPAM 16:52:01) réservoir bas</text>
<line x1="1460" x2="1490" y1="80.5" y2="80.5" stroke="#1c6e86" stroke-width="2"/>
<text x="1495.5" y="84.7">mass (22.82mL 40IPAM 17:00:51) réservoir bas</text>
<line x1="1460" x2="1490" y1="99.5" y2="99.5" stroke="#ff44c4" stroke-width="2"/>
<text x="1495.5" y="103.7">mass (27.72mL 34IPAM 14:48:38) réservoir haut</text>
<line x1="1460" x2="1490" y1="118.5" y2="118.5" stroke="#ff4cb6" stroke-width="2"/>
<text x="1495.5" y="122.7">mass (25.93mL 36IPAM 14:54:07) réservoir haut</text>
<line x1="1460" x2="1490" y1="137.5" y2="137.5" stroke="#ff58aa" stroke-width="2"/>
<text x="1495.5" y="141.7">mass (25.54mL 37IPAM 15:00:13) réservoir haut</text>
<line x1="1460" x2="1490" y1="156.5" y2="156.5" stroke="#ff7a8c" stroke-width="2"/>
<text x="1495.5" y="160.7">mass (23.26mL 40IPAM 15:36:36) réservoir haut</text>
<line x1="1460" x2="1490" y1="175.5" y2="175.5" stroke="#ffff3c" stroke-width="2"/>
<text x="1495.5" y="179.7">mass (16.53mL 47IPAM 15:44:06) réservoir haut</text>
<line x1="1460" x2="1490" y1="194.5" y2="194.5" stroke="#ff3ccc" stroke-width="2"/>
<text x="1495.5" y="198.7">mass (29.26mL 34IPAM 16:02:21) réservoir haut</text>
</g>
<text class="ann" x="327" y="347" style="font-size:12.6px;letter-spacing:0.24px">Après purge du décanté</text>
<text class="ann" x="814" y="468" style="font-size:15px;letter-spacing:0.36px">Décanté</text>
<g clip-path="url(#ac)"><text class="ann" x="1278" y="497" style="font-size:15px;letter-spacing:0.37px">Décanté + remplissage</text></g>
</svg></body></html>
